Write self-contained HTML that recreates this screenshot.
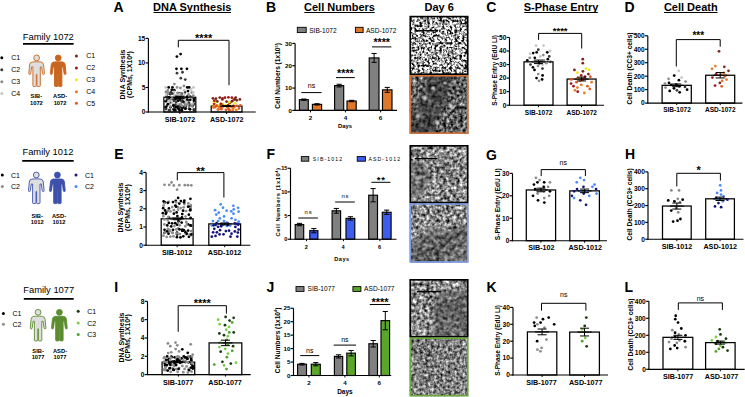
<!DOCTYPE html>
<html><head><meta charset="utf-8">
<style>
html,body{margin:0;padding:0;background:#fff;}
body{width:745px;height:397px;overflow:hidden;}
svg{display:block;font-family:"Liberation Sans", sans-serif;}
</style></head>
<body>
<svg width="745" height="397" viewBox="0 0 745 397">
<defs>
<radialGradient id="glow"><stop offset="0" stop-color="#fff" stop-opacity="0.85"/><stop offset="1" stop-color="#fff" stop-opacity="0"/></radialGradient><filter id="mblur" x="-20%" y="-20%" width="140%" height="140%"><feGaussianBlur stdDeviation="2.5"/></filter><filter id="m1" filterUnits="userSpaceOnUse" x="405" y="10" width="70" height="390" color-interpolation-filters="sRGB"><feTurbulence type="fractalNoise" baseFrequency="0.4" numOctaves="2" seed="3" result="t"/><feColorMatrix in="t" type="matrix" values="3.2 0 0 0 -0.95  3.2 0 0 0 -0.95  3.2 0 0 0 -0.95  0 0 0 0 1" result="a"/><feComposite in2="SourceGraphic" operator="in"/></filter><filter id="mdark" filterUnits="userSpaceOnUse" x="405" y="10" width="70" height="390" color-interpolation-filters="sRGB"><feTurbulence type="fractalNoise" baseFrequency="0.25" numOctaves="2" seed="5" result="t"/><feColorMatrix in="t" type="matrix" values="0.75 0 0 0 -0.09  0.75 0 0 0 -0.09  0.75 0 0 0 -0.09  0 0 0 0 1" result="a"/><feTurbulence type="fractalNoise" baseFrequency="0.06" numOctaves="1" seed="12" result="t2"/><feColorMatrix in="t2" type="matrix" values="0.25 0 0 0 0  0.25 0 0 0 0  0.25 0 0 0 0  0 0 0 0 1" result="b"/><feComposite in="a" in2="b" operator="arithmetic" k1="0" k2="1" k3="1" k4="-0.14" result="c"/><feComposite in2="SourceGraphic" operator="in"/></filter><filter id="mtex_o" filterUnits="userSpaceOnUse" x="405" y="10" width="70" height="390" color-interpolation-filters="sRGB"><feTurbulence type="fractalNoise" baseFrequency="0.3" numOctaves="2" seed="9" result="t"/><feColorMatrix in="t" type="matrix" values="1.5 0 0 0 -0.38  1.5 0 0 0 -0.38  1.5 0 0 0 -0.38  0 0 0 0 1" result="a"/><feComposite in2="SourceGraphic" operator="in"/></filter><filter id="mtex" filterUnits="userSpaceOnUse" x="405" y="10" width="70" height="390" color-interpolation-filters="sRGB"><feTurbulence type="fractalNoise" baseFrequency="0.3" numOctaves="2" seed="8" result="t"/><feColorMatrix in="t" type="matrix" values="1.6 0 0 0 -0.26  1.6 0 0 0 -0.26  1.6 0 0 0 -0.26  0 0 0 0 1" result="a"/><feTurbulence type="fractalNoise" baseFrequency="0.05" numOctaves="1" seed="15" result="t2"/><feColorMatrix in="t2" type="matrix" values="0.3 0 0 0 0  0.3 0 0 0 0  0.3 0 0 0 0  0 0 0 0 1" result="b"/><feComposite in="a" in2="b" operator="arithmetic" k1="0" k2="1" k3="1" k4="-0.15" result="c"/><feComposite in2="SourceGraphic" operator="in"/></filter><filter id="msmooth" filterUnits="userSpaceOnUse" x="405" y="10" width="70" height="390" color-interpolation-filters="sRGB"><feTurbulence type="fractalNoise" baseFrequency="0.25" numOctaves="2" seed="11" result="t"/><feColorMatrix in="t" type="matrix" values="0.9 0 0 0 -0.05  0.9 0 0 0 -0.05  0.9 0 0 0 -0.05  0 0 0 0 1" result="a"/><feTurbulence type="fractalNoise" baseFrequency="0.04" numOctaves="1" seed="18" result="t2"/><feColorMatrix in="t2" type="matrix" values="0.3 0 0 0 0  0.3 0 0 0 0  0.3 0 0 0 0  0 0 0 0 1" result="b"/><feComposite in="a" in2="b" operator="arithmetic" k1="0" k2="1" k3="1" k4="-0.15" result="c"/><feComposite in2="SourceGraphic" operator="in"/></filter><filter id="mtex2" filterUnits="userSpaceOnUse" x="405" y="10" width="70" height="390" color-interpolation-filters="sRGB"><feTurbulence type="fractalNoise" baseFrequency="0.35" numOctaves="2" seed="17" result="t"/><feColorMatrix in="t" type="matrix" values="1.3 0 0 0 -0.15  1.3 0 0 0 -0.15  1.3 0 0 0 -0.15  0 0 0 0 1" result="a"/><feTurbulence type="fractalNoise" baseFrequency="0.05" numOctaves="1" seed="24" result="t2"/><feColorMatrix in="t2" type="matrix" values="0.3 0 0 0 0  0.3 0 0 0 0  0.3 0 0 0 0  0 0 0 0 1" result="b"/><feComposite in="a" in2="b" operator="arithmetic" k1="0" k2="1" k3="1" k4="-0.15" result="c"/><feComposite in2="SourceGraphic" operator="in"/></filter><clipPath id="tc1"><rect x="409.5" y="15.8" width="59" height="59.2"/></clipPath><clipPath id="tc2"><rect x="409.5" y="75" width="59" height="59"/></clipPath><mask id="mc3" maskUnits="userSpaceOnUse" x="400" y="0" width="80" height="400"><path d="M430,140 L475,140 L475,84 L462,70 L452,70 L447,92 L440,112 Z" fill="#fff" filter="url(#mblur)"/></mask><mask id="mc4" maskUnits="userSpaceOnUse" x="400" y="0" width="80" height="400"><path d="M404,70 L428,70 L422,95 L415,112 L404,118 Z" fill="#fff" filter="url(#mblur)"/></mask><clipPath id="tc5"><rect x="409.5" y="145" width="59" height="58.3"/></clipPath><mask id="mc6" maskUnits="userSpaceOnUse" x="400" y="0" width="80" height="400"><path d="M409.5,165 L425,162 L430,180 L420,196 L409.5,196 Z" fill="#fff" filter="url(#mblur)"/></mask><clipPath id="tc7"><rect x="409.5" y="203.3" width="59" height="59.4"/></clipPath><mask id="mc8" maskUnits="userSpaceOnUse" x="400" y="0" width="80" height="400"><path d="M405,198 L475,198 L475,222 L450,232 L432,226 L418,240 L405,238 Z" fill="#fff" filter="url(#mblur)"/></mask><clipPath id="tc9"><rect x="409.5" y="279" width="59" height="58.5"/></clipPath><mask id="mc10" maskUnits="userSpaceOnUse" x="400" y="0" width="80" height="400"><path d="M405,274 L475,274 L475,290 L440,292 L434,310 L432,342 L405,342 Z" fill="#fff" filter="url(#mblur)"/></mask><clipPath id="tc11"><rect x="409.5" y="337.5" width="59" height="59"/></clipPath>
</defs>
<rect width="745" height="397" fill="#fff"/>
<text x="48.3" y="39.5" font-size="9.4" font-weight="normal" text-anchor="middle" fill="#000" >Family 1072</text>
<line x1="23" y1="43.9" x2="73.6" y2="43.9" stroke="#000" stroke-width="1.7"/>
<circle cx="1.8" cy="57.7" r="1.5" fill="#000000"/>
<text x="11.2" y="60.2" font-size="7" font-weight="normal" text-anchor="start" fill="#000" >C1</text>
<circle cx="1.8" cy="69.7" r="1.5" fill="#3a3a3a"/>
<text x="11.2" y="72.2" font-size="7" font-weight="normal" text-anchor="start" fill="#000" >C2</text>
<circle cx="1.8" cy="81.7" r="1.5" fill="#8c8c8c"/>
<text x="11.2" y="84.2" font-size="7" font-weight="normal" text-anchor="start" fill="#000" >C3</text>
<circle cx="1.8" cy="93.5" r="1.5" fill="#c6c6c6"/>
<text x="11.2" y="96" font-size="7" font-weight="normal" text-anchor="start" fill="#000" >C4</text>
<circle cx="76.4" cy="55.9" r="1.5" fill="#7c2616"/>
<text x="86.2" y="58.4" font-size="7" font-weight="normal" text-anchor="start" fill="#000" >C1</text>
<circle cx="76.4" cy="67.9" r="1.5" fill="#a3191d"/>
<text x="86.2" y="70.4" font-size="7" font-weight="normal" text-anchor="start" fill="#000" >C2</text>
<circle cx="76.4" cy="79.7" r="1.5" fill="#f2e61c"/>
<text x="86.2" y="82.2" font-size="7" font-weight="normal" text-anchor="start" fill="#000" >C3</text>
<circle cx="76.4" cy="91.7" r="1.5" fill="#e97a2a"/>
<text x="86.2" y="94.2" font-size="7" font-weight="normal" text-anchor="start" fill="#000" >C4</text>
<circle cx="76.4" cy="103.2" r="1.5" fill="#e2591f"/>
<text x="86.2" y="105.7" font-size="7" font-weight="normal" text-anchor="start" fill="#000" >C5</text>
<g transform="translate(36.6,57.9)" stroke="#c8661f" stroke-width="0.9" fill="#dedede" stroke-linejoin="round"><circle cx="0" cy="0" r="2.9"/><path d="M -1.6,3.9 L -4.5,4.1 Q -6.8,4.4 -7.0,7.0 L -7.8,15.4 Q -7.9,16.6 -6.9,16.6 Q -6.0,16.6 -5.9,15.6 L -5.0,9.0 L -3.7,9.0 L -3.7,27.8 Q -3.7,28.6 -2.9,28.6 L -1.0,28.6 Q -0.3,28.6 -0.3,27.8 L -0.3,16.5 L 0.3,16.5 L 0.3,27.8 Q 0.3,28.6 1.0,28.6 L 2.9,28.6 Q 3.7,28.6 3.7,27.8 L 3.7,9.0 L 5.0,9.0 L 5.9,15.6 Q 6.0,16.6 6.9,16.6 Q 7.9,16.6 7.8,15.4 L 7.0,7.0 Q 6.8,4.4 4.5,4.1 L 1.6,3.9 Z"/></g>
<g transform="translate(58.2,57.9)" stroke="#c8661f" stroke-width="0.9" fill="#c8661f" stroke-linejoin="round"><circle cx="0" cy="0" r="2.9"/><path d="M -1.6,3.9 L -4.5,4.1 Q -6.8,4.4 -7.0,7.0 L -7.8,15.4 Q -7.9,16.6 -6.9,16.6 Q -6.0,16.6 -5.9,15.6 L -5.0,9.0 L -3.7,9.0 L -3.7,27.8 Q -3.7,28.6 -2.9,28.6 L -1.0,28.6 Q -0.3,28.6 -0.3,27.8 L -0.3,16.5 L 0.3,16.5 L 0.3,27.8 Q 0.3,28.6 1.0,28.6 L 2.9,28.6 Q 3.7,28.6 3.7,27.8 L 3.7,9.0 L 5.0,9.0 L 5.9,15.6 Q 6.0,16.6 6.9,16.6 Q 7.9,16.6 7.8,15.4 L 7.0,7.0 Q 6.8,4.4 4.5,4.1 L 1.6,3.9 Z"/></g>
<text x="36.4" y="98.2" font-size="5.8" font-weight="bold" text-anchor="middle" fill="#000" >SIB-</text>
<text x="36.4" y="104.9" font-size="5.8" font-weight="bold" text-anchor="middle" fill="#000" >1072</text>
<text x="60.1" y="98.2" font-size="5.8" font-weight="bold" text-anchor="middle" fill="#000" >ASD-</text>
<text x="60.1" y="104.9" font-size="5.8" font-weight="bold" text-anchor="middle" fill="#000" >1072</text>
<text x="47.95" y="155" font-size="9.4" font-weight="normal" text-anchor="middle" fill="#000" >Family 1012</text>
<line x1="22.2" y1="160.9" x2="73.7" y2="160.9" stroke="#000" stroke-width="1.7"/>
<circle cx="2.3" cy="175.1" r="1.5" fill="#000000"/>
<text x="10.9" y="177.6" font-size="7" font-weight="normal" text-anchor="start" fill="#000" >C1</text>
<circle cx="2.3" cy="186.5" r="1.5" fill="#8c8c8c"/>
<text x="10.9" y="189" font-size="7" font-weight="normal" text-anchor="start" fill="#000" >C2</text>
<circle cx="76" cy="175" r="1.5" fill="#16167a"/>
<text x="85" y="177.5" font-size="7" font-weight="normal" text-anchor="start" fill="#000" >C1</text>
<circle cx="76" cy="186.5" r="1.5" fill="#4a8cf6"/>
<text x="85" y="189" font-size="7" font-weight="normal" text-anchor="start" fill="#000" >C2</text>
<g transform="translate(36.3,175)" stroke="#3d51aa" stroke-width="0.9" fill="#dedede" stroke-linejoin="round"><circle cx="0" cy="0" r="2.9"/><path d="M -1.6,3.9 L -4.5,4.1 Q -6.8,4.4 -7.0,7.0 L -7.8,15.4 Q -7.9,16.6 -6.9,16.6 Q -6.0,16.6 -5.9,15.6 L -5.0,9.0 L -3.7,9.0 L -3.7,27.8 Q -3.7,28.6 -2.9,28.6 L -1.0,28.6 Q -0.3,28.6 -0.3,27.8 L -0.3,16.5 L 0.3,16.5 L 0.3,27.8 Q 0.3,28.6 1.0,28.6 L 2.9,28.6 Q 3.7,28.6 3.7,27.8 L 3.7,9.0 L 5.0,9.0 L 5.9,15.6 Q 6.0,16.6 6.9,16.6 Q 7.9,16.6 7.8,15.4 L 7.0,7.0 Q 6.8,4.4 4.5,4.1 L 1.6,3.9 Z"/></g>
<g transform="translate(57.4,175)" stroke="#3d51aa" stroke-width="0.9" fill="#3d51aa" stroke-linejoin="round"><circle cx="0" cy="0" r="2.9"/><path d="M -1.6,3.9 L -4.5,4.1 Q -6.8,4.4 -7.0,7.0 L -7.8,15.4 Q -7.9,16.6 -6.9,16.6 Q -6.0,16.6 -5.9,15.6 L -5.0,9.0 L -3.7,9.0 L -3.7,27.8 Q -3.7,28.6 -2.9,28.6 L -1.0,28.6 Q -0.3,28.6 -0.3,27.8 L -0.3,16.5 L 0.3,16.5 L 0.3,27.8 Q 0.3,28.6 1.0,28.6 L 2.9,28.6 Q 3.7,28.6 3.7,27.8 L 3.7,9.0 L 5.0,9.0 L 5.9,15.6 Q 6.0,16.6 6.9,16.6 Q 7.9,16.6 7.8,15.4 L 7.0,7.0 Q 6.8,4.4 4.5,4.1 L 1.6,3.9 Z"/></g>
<text x="37.2" y="217.7" font-size="5.8" font-weight="bold" text-anchor="middle" fill="#000" >SIB-</text>
<text x="37.2" y="224.4" font-size="5.8" font-weight="bold" text-anchor="middle" fill="#000" >1012</text>
<text x="59" y="217.7" font-size="5.8" font-weight="bold" text-anchor="middle" fill="#000" >ASD-</text>
<text x="59" y="224.4" font-size="5.8" font-weight="bold" text-anchor="middle" fill="#000" >1012</text>
<text x="48.75" y="293" font-size="9.4" font-weight="normal" text-anchor="middle" fill="#000" >Family 1077</text>
<line x1="23.8" y1="298.8" x2="73.7" y2="298.8" stroke="#000" stroke-width="1.7"/>
<circle cx="3.4" cy="313.5" r="1.5" fill="#000000"/>
<text x="12.5" y="316" font-size="7" font-weight="normal" text-anchor="start" fill="#000" >C1</text>
<circle cx="3.4" cy="324.2" r="1.5" fill="#8c8c8c"/>
<text x="12.5" y="326.7" font-size="7" font-weight="normal" text-anchor="start" fill="#000" >C2</text>
<circle cx="78.2" cy="311.3" r="1.5" fill="#1a3a10"/>
<text x="87.3" y="313.8" font-size="7" font-weight="normal" text-anchor="start" fill="#000" >C1</text>
<circle cx="78.2" cy="323.1" r="1.5" fill="#74d044"/>
<text x="87.3" y="325.6" font-size="7" font-weight="normal" text-anchor="start" fill="#000" >C2</text>
<circle cx="78.2" cy="334.4" r="1.5" fill="#4fa22c"/>
<text x="87.3" y="336.9" font-size="7" font-weight="normal" text-anchor="start" fill="#000" >C3</text>
<g transform="translate(38.1,312.3)" stroke="#5b8c2f" stroke-width="0.9" fill="#dedede" stroke-linejoin="round"><circle cx="0" cy="0" r="2.9"/><path d="M -1.6,3.9 L -4.5,4.1 Q -6.8,4.4 -7.0,7.0 L -7.8,15.4 Q -7.9,16.6 -6.9,16.6 Q -6.0,16.6 -5.9,15.6 L -5.0,9.0 L -3.7,9.0 L -3.7,27.8 Q -3.7,28.6 -2.9,28.6 L -1.0,28.6 Q -0.3,28.6 -0.3,27.8 L -0.3,16.5 L 0.3,16.5 L 0.3,27.8 Q 0.3,28.6 1.0,28.6 L 2.9,28.6 Q 3.7,28.6 3.7,27.8 L 3.7,9.0 L 5.0,9.0 L 5.9,15.6 Q 6.0,16.6 6.9,16.6 Q 7.9,16.6 7.8,15.4 L 7.0,7.0 Q 6.8,4.4 4.5,4.1 L 1.6,3.9 Z"/></g>
<g transform="translate(59.4,312.3)" stroke="#5b8c2f" stroke-width="0.9" fill="#5b8c2f" stroke-linejoin="round"><circle cx="0" cy="0" r="2.9"/><path d="M -1.6,3.9 L -4.5,4.1 Q -6.8,4.4 -7.0,7.0 L -7.8,15.4 Q -7.9,16.6 -6.9,16.6 Q -6.0,16.6 -5.9,15.6 L -5.0,9.0 L -3.7,9.0 L -3.7,27.8 Q -3.7,28.6 -2.9,28.6 L -1.0,28.6 Q -0.3,28.6 -0.3,27.8 L -0.3,16.5 L 0.3,16.5 L 0.3,27.8 Q 0.3,28.6 1.0,28.6 L 2.9,28.6 Q 3.7,28.6 3.7,27.8 L 3.7,9.0 L 5.0,9.0 L 5.9,15.6 Q 6.0,16.6 6.9,16.6 Q 7.9,16.6 7.8,15.4 L 7.0,7.0 Q 6.8,4.4 4.5,4.1 L 1.6,3.9 Z"/></g>
<text x="38.1" y="352.7" font-size="5.8" font-weight="bold" text-anchor="middle" fill="#000" >SIB-</text>
<text x="38.1" y="359.4" font-size="5.8" font-weight="bold" text-anchor="middle" fill="#000" >1077</text>
<text x="60" y="352.7" font-size="5.8" font-weight="bold" text-anchor="middle" fill="#000" >ASD-</text>
<text x="60" y="359.4" font-size="5.8" font-weight="bold" text-anchor="middle" fill="#000" >1077</text>
<text x="113.5" y="12.3" font-size="14" font-weight="bold" text-anchor="start" fill="#000" >A</text>
<text x="266" y="12.3" font-size="14" font-weight="bold" text-anchor="start" fill="#000" >B</text>
<text x="486.3" y="12.3" font-size="14" font-weight="bold" text-anchor="start" fill="#000" >C</text>
<text x="624.4" y="12.3" font-size="14" font-weight="bold" text-anchor="start" fill="#000" >D</text>
<text x="114.2" y="159.1" font-size="14" font-weight="bold" text-anchor="start" fill="#000" >E</text>
<text x="266.5" y="159" font-size="14" font-weight="bold" text-anchor="start" fill="#000" >F</text>
<text x="486" y="159.5" font-size="14" font-weight="bold" text-anchor="start" fill="#000" >G</text>
<text x="625" y="159" font-size="14" font-weight="bold" text-anchor="start" fill="#000" >H</text>
<text x="114.2" y="292" font-size="14" font-weight="bold" text-anchor="start" fill="#000" >I</text>
<text x="266.6" y="292" font-size="14" font-weight="bold" text-anchor="start" fill="#000" >J</text>
<text x="486.4" y="292.3" font-size="14" font-weight="bold" text-anchor="start" fill="#000" >K</text>
<text x="624.6" y="292.1" font-size="14" font-weight="bold" text-anchor="start" fill="#000" >L</text>
<text x="192.25" y="10.9" font-size="11" font-weight="bold" text-anchor="middle" fill="#000" >DNA Synthesis</text>
<line x1="153.5" y1="12.5" x2="231" y2="12.5" stroke="#000" stroke-width="1.1"/>
<text x="339.5" y="10.9" font-size="11" font-weight="bold" text-anchor="middle" fill="#000" >Cell Numbers</text>
<line x1="304.3" y1="12.5" x2="374.7" y2="12.5" stroke="#000" stroke-width="1.1"/>
<text x="561" y="10.9" font-size="11" font-weight="bold" text-anchor="middle" fill="#000" >S-Phase Entry</text>
<line x1="524.2" y1="12.5" x2="597.8" y2="12.5" stroke="#000" stroke-width="1.1"/>
<text x="690.8" y="10.9" font-size="11" font-weight="bold" text-anchor="middle" fill="#000" >Cell Death</text>
<line x1="664.1" y1="12.5" x2="717.5" y2="12.5" stroke="#000" stroke-width="1.1"/>
<text x="439.2" y="11.3" font-size="11" font-weight="bold" text-anchor="middle" fill="#000" >Day 6</text>
<g clip-path="url(#tc1)">
<rect x="409.5" y="15.8" width="59" height="59.2" fill="#fff" filter="url(#m1)"/>
</g>
<g clip-path="url(#tc2)">
<rect x="409.5" y="75" width="59" height="59" fill="#fff" filter="url(#mdark)"/>
<g mask="url(#mc3)"><rect x="409.5" y="10" width="59" height="390" fill="#fff" filter="url(#mtex_o)"/></g>
<g mask="url(#mc4)"><rect x="409.5" y="10" width="59" height="390" fill="#fff" filter="url(#mtex_o)"/></g>
<circle cx="425" cy="98" r="3.5" fill="url(#glow)"/>
<circle cx="418" cy="116" r="3" fill="url(#glow)"/>
<circle cx="437" cy="122" r="3" fill="url(#glow)"/>
<circle cx="451" cy="106" r="3.5" fill="url(#glow)"/>
<circle cx="433" cy="88" r="2.5" fill="url(#glow)"/>
<circle cx="445" cy="83" r="2.5" fill="url(#glow)"/>
</g>
<rect x="410.3" y="16.6" width="57.4" height="57.6" fill="none" stroke="#000" stroke-width="1.6"/>
<rect x="410.3" y="75.8" width="57.4" height="57.4" fill="none" stroke="#d0743a" stroke-width="1.6"/>
<g clip-path="url(#tc5)">
<rect x="409.5" y="145" width="59" height="58.3" fill="#fff" filter="url(#mtex)"/>
<g mask="url(#mc6)"><rect x="409.5" y="10" width="59" height="390" fill="#fff" filter="url(#msmooth)"/></g>
</g>
<g clip-path="url(#tc7)">
<rect x="409.5" y="203.3" width="59" height="59.4" fill="#fff" filter="url(#msmooth)"/>
<g mask="url(#mc8)"><rect x="409.5" y="10" width="59" height="390" fill="#fff" filter="url(#mtex)"/></g>
</g>
<rect x="410.3" y="145.8" width="57.4" height="56.7" fill="none" stroke="#000" stroke-width="1.6"/>
<rect x="410.3" y="204.1" width="57.4" height="57.8" fill="none" stroke="#7d9be0" stroke-width="1.6"/>
<g clip-path="url(#tc9)">
<rect x="409.5" y="279" width="59" height="58.5" fill="#fff" filter="url(#msmooth)"/>
<g mask="url(#mc10)"><rect x="409.5" y="10" width="59" height="390" fill="#fff" filter="url(#mtex)"/></g>
</g>
<g clip-path="url(#tc11)">
<rect x="409.5" y="337.5" width="59" height="59" fill="#fff" filter="url(#mtex2)"/>
</g>
<rect x="410.3" y="279.8" width="57.4" height="56.9" fill="none" stroke="#000" stroke-width="1.6"/>
<rect x="410.3" y="338.3" width="57.4" height="57.4" fill="none" stroke="#6aa83a" stroke-width="1.6"/>
<line x1="415" y1="30.7" x2="438" y2="30.7" stroke="#000" stroke-width="1.3"/>
<line x1="414.7" y1="158.6" x2="437.4" y2="158.6" stroke="#000" stroke-width="1.3"/>
<line x1="417" y1="291.7" x2="440.8" y2="291.7" stroke="#000" stroke-width="1.3"/>
<rect x="163.9" y="97.28" width="31.9" height="14.72" fill="#fff" stroke="#000" stroke-width="1.25"/>
<rect x="211.2" y="106.11" width="30.8" height="5.89" fill="#fff" stroke="#000" stroke-width="1.25"/>
<circle cx="174.78" cy="99.16" r="1.38" fill="#000000"/>
<circle cx="174.29" cy="90.17" r="1.38" fill="#000000"/>
<circle cx="182.5" cy="72.25" r="1.38" fill="#3a3a3a"/>
<circle cx="183.81" cy="96.37" r="1.38" fill="#c6c6c6"/>
<circle cx="167.08" cy="94.38" r="1.38" fill="#c6c6c6"/>
<circle cx="168.69" cy="87.47" r="1.38" fill="#000000"/>
<circle cx="175.38" cy="104.61" r="1.38" fill="#3a3a3a"/>
<circle cx="193.83" cy="103.75" r="1.38" fill="#3a3a3a"/>
<circle cx="170.14" cy="94.22" r="1.38" fill="#3a3a3a"/>
<circle cx="181.69" cy="93.48" r="1.38" fill="#8c8c8c"/>
<circle cx="172.94" cy="98.72" r="1.38" fill="#000000"/>
<circle cx="173.61" cy="93.14" r="1.38" fill="#c6c6c6"/>
<circle cx="170.06" cy="103.14" r="1.38" fill="#8c8c8c"/>
<circle cx="166.85" cy="106.09" r="1.38" fill="#3a3a3a"/>
<circle cx="179.02" cy="93.44" r="1.38" fill="#000000"/>
<circle cx="165.6" cy="87.47" r="1.38" fill="#c6c6c6"/>
<circle cx="193.91" cy="100.7" r="1.38" fill="#000000"/>
<circle cx="168.88" cy="97.28" r="1.38" fill="#000000"/>
<circle cx="170.01" cy="99.65" r="1.38" fill="#8c8c8c"/>
<circle cx="183.55" cy="107.1" r="1.38" fill="#3a3a3a"/>
<circle cx="168.04" cy="93.16" r="1.38" fill="#8c8c8c"/>
<circle cx="173.26" cy="109.34" r="1.38" fill="#3a3a3a"/>
<circle cx="178.08" cy="104.64" r="1.38" fill="#8c8c8c"/>
<circle cx="181.4" cy="97.3" r="1.38" fill="#3a3a3a"/>
<circle cx="165.92" cy="101.15" r="1.38" fill="#000000"/>
<circle cx="181.01" cy="93.23" r="1.38" fill="#8c8c8c"/>
<circle cx="193.95" cy="109.89" r="1.38" fill="#000000"/>
<circle cx="185.11" cy="105.01" r="1.38" fill="#3a3a3a"/>
<circle cx="185" cy="100.58" r="1.38" fill="#8c8c8c"/>
<circle cx="170.86" cy="101.81" r="1.38" fill="#3a3a3a"/>
<circle cx="174.37" cy="84.03" r="1.38" fill="#8c8c8c"/>
<circle cx="180.6" cy="54.1" r="1.38" fill="#000000"/>
<circle cx="172.59" cy="97.76" r="1.38" fill="#8c8c8c"/>
<circle cx="176.33" cy="98.63" r="1.38" fill="#8c8c8c"/>
<circle cx="186.25" cy="103.27" r="1.38" fill="#8c8c8c"/>
<circle cx="183.77" cy="99.17" r="1.38" fill="#000000"/>
<circle cx="184.76" cy="101.67" r="1.38" fill="#3a3a3a"/>
<circle cx="178.22" cy="93.8" r="1.38" fill="#000000"/>
<circle cx="174.46" cy="110.37" r="1.38" fill="#000000"/>
<circle cx="179.62" cy="97.24" r="1.38" fill="#000000"/>
<circle cx="179.06" cy="107.66" r="1.38" fill="#3a3a3a"/>
<circle cx="191.75" cy="92.61" r="1.38" fill="#8c8c8c"/>
<circle cx="188.48" cy="94.44" r="1.38" fill="#8c8c8c"/>
<circle cx="189.2" cy="87.47" r="1.38" fill="#000000"/>
<circle cx="184.84" cy="93.7" r="1.38" fill="#c6c6c6"/>
<circle cx="187.9" cy="101.43" r="1.38" fill="#8c8c8c"/>
<circle cx="189.35" cy="106.18" r="1.38" fill="#8c8c8c"/>
<circle cx="184.58" cy="97.86" r="1.38" fill="#3a3a3a"/>
<circle cx="178.64" cy="104.22" r="1.38" fill="#c6c6c6"/>
<circle cx="184.2" cy="102.39" r="1.38" fill="#3a3a3a"/>
<circle cx="165.82" cy="91.95" r="1.38" fill="#8c8c8c"/>
<circle cx="187.87" cy="100.29" r="1.38" fill="#3a3a3a"/>
<circle cx="193.93" cy="98.88" r="1.38" fill="#000000"/>
<circle cx="185.81" cy="103.64" r="1.38" fill="#8c8c8c"/>
<circle cx="170.38" cy="107.35" r="1.38" fill="#000000"/>
<circle cx="175.28" cy="106.81" r="1.38" fill="#000000"/>
<circle cx="166.49" cy="95.9" r="1.38" fill="#000000"/>
<circle cx="193.23" cy="92.38" r="1.38" fill="#c6c6c6"/>
<circle cx="182.11" cy="108.2" r="1.38" fill="#8c8c8c"/>
<circle cx="179.65" cy="104.83" r="1.38" fill="#8c8c8c"/>
<circle cx="190.28" cy="99.81" r="1.38" fill="#000000"/>
<circle cx="166.16" cy="94.95" r="1.38" fill="#c6c6c6"/>
<circle cx="181.78" cy="94.05" r="1.38" fill="#3a3a3a"/>
<circle cx="186.41" cy="102.17" r="1.38" fill="#c6c6c6"/>
<circle cx="176.15" cy="102.11" r="1.38" fill="#3a3a3a"/>
<circle cx="165.78" cy="100.98" r="1.38" fill="#000000"/>
<circle cx="189" cy="108.65" r="1.38" fill="#3a3a3a"/>
<circle cx="175.62" cy="110.39" r="1.38" fill="#3a3a3a"/>
<circle cx="175.81" cy="95.63" r="1.38" fill="#8c8c8c"/>
<circle cx="183.48" cy="97.11" r="1.38" fill="#8c8c8c"/>
<circle cx="193.48" cy="104.16" r="1.38" fill="#3a3a3a"/>
<circle cx="181.37" cy="68.82" r="1.38" fill="#000000"/>
<circle cx="165.69" cy="99.1" r="1.38" fill="#c6c6c6"/>
<circle cx="180.03" cy="98.43" r="1.38" fill="#3a3a3a"/>
<circle cx="169.78" cy="110.31" r="1.38" fill="#3a3a3a"/>
<circle cx="179.59" cy="110.21" r="1.38" fill="#000000"/>
<circle cx="166.42" cy="108.77" r="1.38" fill="#8c8c8c"/>
<circle cx="167.36" cy="99.3" r="1.38" fill="#3a3a3a"/>
<circle cx="180.44" cy="87.96" r="1.38" fill="#8c8c8c"/>
<circle cx="167.31" cy="92.37" r="1.38" fill="#8c8c8c"/>
<circle cx="173.29" cy="103.47" r="1.38" fill="#c6c6c6"/>
<circle cx="167.8" cy="104.13" r="1.38" fill="#000000"/>
<circle cx="177.04" cy="87.47" r="1.38" fill="#8c8c8c"/>
<circle cx="183.53" cy="100.07" r="1.38" fill="#3a3a3a"/>
<circle cx="169.4" cy="97.54" r="1.38" fill="#000000"/>
<circle cx="173.91" cy="91.9" r="1.38" fill="#c6c6c6"/>
<circle cx="178.1" cy="97.74" r="1.38" fill="#000000"/>
<circle cx="190.82" cy="97.12" r="1.38" fill="#3a3a3a"/>
<circle cx="182.12" cy="108.43" r="1.38" fill="#000000"/>
<circle cx="180.64" cy="100.91" r="1.38" fill="#8c8c8c"/>
<circle cx="170.79" cy="92.75" r="1.38" fill="#000000"/>
<circle cx="170.93" cy="92.39" r="1.38" fill="#8c8c8c"/>
<circle cx="170.63" cy="101.23" r="1.38" fill="#000000"/>
<circle cx="181.82" cy="110.3" r="1.38" fill="#000000"/>
<circle cx="188" cy="91.03" r="1.38" fill="#000000"/>
<circle cx="185.16" cy="108.7" r="1.38" fill="#3a3a3a"/>
<circle cx="192.79" cy="104.02" r="1.38" fill="#8c8c8c"/>
<circle cx="174.4" cy="107.26" r="1.38" fill="#3a3a3a"/>
<circle cx="177" cy="73.23" r="1.38" fill="#3a3a3a"/>
<circle cx="176.89" cy="56.55" r="1.38" fill="#000000"/>
<circle cx="186.69" cy="101.51" r="1.38" fill="#c6c6c6"/>
<circle cx="193.12" cy="105.1" r="1.38" fill="#3a3a3a"/>
<circle cx="179.8" cy="94.02" r="1.38" fill="#c6c6c6"/>
<circle cx="181.06" cy="103.97" r="1.38" fill="#8c8c8c"/>
<circle cx="169.09" cy="101.32" r="1.38" fill="#c6c6c6"/>
<circle cx="178.1" cy="96.63" r="1.38" fill="#3a3a3a"/>
<circle cx="179.2" cy="106.53" r="1.38" fill="#3a3a3a"/>
<circle cx="176.34" cy="97.46" r="1.38" fill="#000000"/>
<circle cx="181.17" cy="107.6" r="1.38" fill="#3a3a3a"/>
<circle cx="190.11" cy="96.71" r="1.38" fill="#3a3a3a"/>
<circle cx="172.25" cy="100.78" r="1.38" fill="#000000"/>
<circle cx="170.99" cy="92.3" r="1.38" fill="#3a3a3a"/>
<circle cx="171.95" cy="101.59" r="1.38" fill="#c6c6c6"/>
<circle cx="178.25" cy="94.48" r="1.38" fill="#c6c6c6"/>
<circle cx="177.71" cy="98.13" r="1.38" fill="#000000"/>
<circle cx="193.98" cy="109.3" r="1.38" fill="#3a3a3a"/>
<circle cx="187.28" cy="99.38" r="1.38" fill="#000000"/>
<circle cx="190.01" cy="109.22" r="1.38" fill="#8c8c8c"/>
<circle cx="185.03" cy="92.12" r="1.38" fill="#3a3a3a"/>
<circle cx="192.44" cy="104.86" r="1.38" fill="#8c8c8c"/>
<circle cx="167.79" cy="90.42" r="1.38" fill="#8c8c8c"/>
<circle cx="184.43" cy="90.19" r="1.38" fill="#c6c6c6"/>
<circle cx="177.52" cy="92.84" r="1.38" fill="#8c8c8c"/>
<circle cx="193.53" cy="87.47" r="1.38" fill="#c6c6c6"/>
<circle cx="185.29" cy="79.61" r="1.38" fill="#3a3a3a"/>
<circle cx="169.13" cy="110.15" r="1.38" fill="#3a3a3a"/>
<circle cx="171.43" cy="100.76" r="1.38" fill="#c6c6c6"/>
<circle cx="178.12" cy="108.54" r="1.38" fill="#000000"/>
<circle cx="183.95" cy="85.99" r="1.38" fill="#8c8c8c"/>
<circle cx="174.11" cy="94.59" r="1.38" fill="#c6c6c6"/>
<circle cx="185.65" cy="106.42" r="1.38" fill="#3a3a3a"/>
<circle cx="165.66" cy="107.2" r="1.38" fill="#000000"/>
<circle cx="191.19" cy="89.5" r="1.38" fill="#c6c6c6"/>
<circle cx="182.08" cy="106.51" r="1.38" fill="#000000"/>
<circle cx="187.1" cy="96.73" r="1.38" fill="#000000"/>
<circle cx="184.58" cy="99.79" r="1.38" fill="#c6c6c6"/>
<circle cx="176.25" cy="107.04" r="1.38" fill="#000000"/>
<circle cx="189.99" cy="109.27" r="1.38" fill="#000000"/>
<circle cx="186.92" cy="68.82" r="1.38" fill="#000000"/>
<circle cx="165.84" cy="109.03" r="1.38" fill="#3a3a3a"/>
<circle cx="173.53" cy="105.74" r="1.38" fill="#3a3a3a"/>
<circle cx="192.38" cy="104.02" r="1.38" fill="#c6c6c6"/>
<circle cx="170.37" cy="106.5" r="1.38" fill="#8c8c8c"/>
<circle cx="175.68" cy="100.15" r="1.38" fill="#8c8c8c"/>
<circle cx="172.18" cy="93.58" r="1.38" fill="#3a3a3a"/>
<circle cx="189.06" cy="102.99" r="1.38" fill="#3a3a3a"/>
<circle cx="178.11" cy="100.74" r="1.38" fill="#000000"/>
<circle cx="174.18" cy="100.68" r="1.38" fill="#3a3a3a"/>
<circle cx="175.62" cy="98.94" r="1.38" fill="#000000"/>
<circle cx="189.47" cy="105" r="1.38" fill="#3a3a3a"/>
<circle cx="177.45" cy="106.63" r="1.38" fill="#000000"/>
<circle cx="181.27" cy="94.65" r="1.38" fill="#8c8c8c"/>
<circle cx="180.16" cy="99.73" r="1.38" fill="#000000"/>
<circle cx="187.25" cy="87.47" r="1.38" fill="#000000"/>
<circle cx="192.76" cy="97.22" r="1.38" fill="#3a3a3a"/>
<circle cx="182.55" cy="101.5" r="1.38" fill="#000000"/>
<circle cx="188.02" cy="104.53" r="1.38" fill="#8c8c8c"/>
<circle cx="171.76" cy="89.8" r="1.38" fill="#000000"/>
<circle cx="193.31" cy="95.61" r="1.38" fill="#8c8c8c"/>
<circle cx="192.64" cy="106.05" r="1.38" fill="#000000"/>
<circle cx="174.86" cy="109.64" r="1.38" fill="#000000"/>
<circle cx="185.17" cy="105.41" r="1.38" fill="#8c8c8c"/>
<circle cx="173.44" cy="105.42" r="1.38" fill="#000000"/>
<circle cx="182.29" cy="107.5" r="1.38" fill="#000000"/>
<circle cx="192.25" cy="106.17" r="1.38" fill="#8c8c8c"/>
<circle cx="182.04" cy="105.99" r="1.38" fill="#8c8c8c"/>
<circle cx="176.46" cy="68.82" r="1.38" fill="#000000"/>
<circle cx="181.53" cy="100.98" r="1.38" fill="#3a3a3a"/>
<circle cx="180.78" cy="78.14" r="1.38" fill="#3a3a3a"/>
<circle cx="172.44" cy="87.47" r="1.38" fill="#000000"/>
<circle cx="185.61" cy="108.61" r="1.38" fill="#000000"/>
<circle cx="236.81" cy="100.31" r="1.38" fill="#7c2616"/>
<circle cx="229.01" cy="109.63" r="1.38" fill="#e97a2a"/>
<circle cx="228.42" cy="108.88" r="1.38" fill="#e2591f"/>
<circle cx="232.9" cy="109.79" r="1.38" fill="#e97a2a"/>
<circle cx="229.99" cy="103.54" r="1.38" fill="#f2e61c"/>
<circle cx="216.96" cy="105.98" r="1.38" fill="#e2591f"/>
<circle cx="215.96" cy="98.63" r="1.38" fill="#7c2616"/>
<circle cx="225.91" cy="109.86" r="1.38" fill="#e2591f"/>
<circle cx="225.01" cy="97.69" r="1.38" fill="#a3191d"/>
<circle cx="217.03" cy="101.99" r="1.38" fill="#f2e61c"/>
<circle cx="239.88" cy="99.45" r="1.38" fill="#7c2616"/>
<circle cx="222.73" cy="103.96" r="1.38" fill="#f2e61c"/>
<circle cx="219.55" cy="105.29" r="1.38" fill="#f2e61c"/>
<circle cx="228.38" cy="97.29" r="1.38" fill="#a3191d"/>
<circle cx="236.27" cy="110.08" r="1.38" fill="#e97a2a"/>
<circle cx="212.96" cy="98.28" r="1.38" fill="#7c2616"/>
<circle cx="222.34" cy="99.41" r="1.38" fill="#7c2616"/>
<circle cx="213.92" cy="104.87" r="1.38" fill="#f2e61c"/>
<circle cx="229.44" cy="102.66" r="1.38" fill="#7c2616"/>
<circle cx="231.87" cy="97.68" r="1.38" fill="#a3191d"/>
<circle cx="227.87" cy="105.72" r="1.38" fill="#a3191d"/>
<circle cx="213.36" cy="106.86" r="1.38" fill="#a3191d"/>
<circle cx="227.94" cy="107.03" r="1.38" fill="#e97a2a"/>
<circle cx="231.46" cy="106.81" r="1.38" fill="#e97a2a"/>
<circle cx="228.24" cy="105.28" r="1.38" fill="#a3191d"/>
<circle cx="238.91" cy="108.49" r="1.38" fill="#e2591f"/>
<circle cx="221.95" cy="104.82" r="1.38" fill="#a3191d"/>
<circle cx="225.59" cy="105.11" r="1.38" fill="#f2e61c"/>
<circle cx="221.39" cy="109.15" r="1.38" fill="#e2591f"/>
<circle cx="227.19" cy="107.06" r="1.38" fill="#e97a2a"/>
<circle cx="218.38" cy="109.37" r="1.38" fill="#e2591f"/>
<circle cx="217.79" cy="109.58" r="1.38" fill="#e97a2a"/>
<circle cx="214.13" cy="103.7" r="1.38" fill="#a3191d"/>
<circle cx="213.68" cy="101.9" r="1.38" fill="#f2e61c"/>
<circle cx="235.01" cy="98.94" r="1.38" fill="#7c2616"/>
<circle cx="240.36" cy="105.38" r="1.38" fill="#e2591f"/>
<circle cx="234.03" cy="99.62" r="1.38" fill="#7c2616"/>
<circle cx="231.7" cy="106.28" r="1.38" fill="#e97a2a"/>
<circle cx="232.15" cy="101.17" r="1.38" fill="#7c2616"/>
<circle cx="220.83" cy="103.96" r="1.38" fill="#a3191d"/>
<circle cx="229.81" cy="110.3" r="1.38" fill="#e2591f"/>
<circle cx="214.37" cy="100.7" r="1.38" fill="#a3191d"/>
<circle cx="216.77" cy="105.53" r="1.38" fill="#e2591f"/>
<circle cx="235.65" cy="97.52" r="1.38" fill="#7c2616"/>
<circle cx="234.58" cy="106.77" r="1.38" fill="#e97a2a"/>
<circle cx="219.8" cy="97.62" r="1.38" fill="#7c2616"/>
<circle cx="233.48" cy="105.91" r="1.38" fill="#a3191d"/>
<circle cx="226.56" cy="101.62" r="1.38" fill="#7c2616"/>
<circle cx="222.46" cy="105.63" r="1.38" fill="#e97a2a"/>
<circle cx="235.18" cy="103.3" r="1.38" fill="#f2e61c"/>
<circle cx="217.24" cy="101.3" r="1.38" fill="#7c2616"/>
<circle cx="222.55" cy="98.36" r="1.38" fill="#a3191d"/>
<circle cx="230.2" cy="102.23" r="1.38" fill="#7c2616"/>
<circle cx="215.3" cy="107.09" r="1.38" fill="#e2591f"/>
<circle cx="222.81" cy="106.41" r="1.38" fill="#e97a2a"/>
<circle cx="236.97" cy="105.82" r="1.38" fill="#e2591f"/>
<circle cx="213.41" cy="107.35" r="1.38" fill="#e2591f"/>
<circle cx="213.85" cy="106.82" r="1.38" fill="#e2591f"/>
<circle cx="219.5" cy="107.24" r="1.38" fill="#e97a2a"/>
<circle cx="221.05" cy="108.24" r="1.38" fill="#e2591f"/>
<circle cx="213.06" cy="106.97" r="1.38" fill="#e97a2a"/>
<circle cx="233.1" cy="108.36" r="1.38" fill="#e97a2a"/>
<circle cx="229.33" cy="102.12" r="1.38" fill="#f2e61c"/>
<line x1="172.85" y1="97.28" x2="186.85" y2="97.28" stroke="#000" stroke-width="1.1"/>
<line x1="179.85" y1="96.3" x2="179.85" y2="98.26" stroke="#000" stroke-width="1"/>
<line x1="175.35" y1="96.3" x2="184.35" y2="96.3" stroke="#000" stroke-width="1"/>
<line x1="175.35" y1="98.26" x2="184.35" y2="98.26" stroke="#000" stroke-width="1"/>
<line x1="219.6" y1="106.11" x2="233.6" y2="106.11" stroke="#000" stroke-width="1.1"/>
<line x1="226.6" y1="105.62" x2="226.6" y2="106.6" stroke="#000" stroke-width="1"/>
<line x1="222.1" y1="105.62" x2="231.1" y2="105.62" stroke="#000" stroke-width="1"/>
<line x1="222.1" y1="106.6" x2="231.1" y2="106.6" stroke="#000" stroke-width="1"/>
<line x1="148.4" y1="112.5" x2="148.4" y2="38.39" stroke="#000" stroke-width="1.15"/>
<line x1="145.6" y1="112" x2="148.4" y2="112" stroke="#000" stroke-width="1.15"/>
<text x="145.3" y="114.38" font-size="6.6" font-weight="bold" text-anchor="end" fill="#000" >0</text>
<line x1="145.6" y1="87.47" x2="148.4" y2="87.47" stroke="#000" stroke-width="1.15"/>
<text x="145.3" y="89.84" font-size="6.6" font-weight="bold" text-anchor="end" fill="#000" >5</text>
<line x1="145.6" y1="62.93" x2="148.4" y2="62.93" stroke="#000" stroke-width="1.15"/>
<text x="145.3" y="65.31" font-size="6.6" font-weight="bold" text-anchor="end" fill="#000" >10</text>
<line x1="145.6" y1="38.39" x2="148.4" y2="38.39" stroke="#000" stroke-width="1.15"/>
<text x="145.3" y="40.77" font-size="6.6" font-weight="bold" text-anchor="end" fill="#000" >15</text>
<line x1="147.9" y1="112" x2="255.7" y2="112" stroke="#000" stroke-width="1.15"/>
<line x1="179.85" y1="112" x2="179.85" y2="114" stroke="#000" stroke-width="1"/>
<line x1="226.6" y1="112" x2="226.6" y2="114" stroke="#000" stroke-width="1"/>
<polyline points="178.3,47.4 178.3,40.3 229,40.3 229,85.2" fill="none" stroke="#000" stroke-width="1"/>
<text x="203.65" y="41.99" font-size="11" font-weight="bold" text-anchor="middle" fill="#000" >****</text>
<text transform="translate(125.22,74.5) rotate(-90)" font-size="7" font-weight="bold" text-anchor="middle">DNA Synthesis</text>
<text transform="translate(132.22,74.5) rotate(-90)" font-size="7" font-weight="bold" text-anchor="middle">(CPMs, 1X10<tspan font-size="4.4" dy="-2.6">4</tspan><tspan dy="2.6">)</tspan></text>
<text x="180" y="122.3" font-size="7.2" font-weight="bold" text-anchor="middle" fill="#000" >SIB-1072</text>
<text x="226.7" y="122.3" font-size="7.2" font-weight="bold" text-anchor="middle" fill="#000" >ASD-1072</text>
<rect x="524" y="61.84" width="29" height="43.36" fill="#fff" stroke="#000" stroke-width="1.25"/>
<rect x="567.1" y="79.05" width="29" height="26.15" fill="#fff" stroke="#000" stroke-width="1.25"/>
<circle cx="538.04" cy="65.91" r="1.38" fill="#8c8c8c"/>
<circle cx="547.25" cy="52.36" r="1.38" fill="#000000"/>
<circle cx="542.57" cy="75.39" r="1.38" fill="#000000"/>
<circle cx="538.3" cy="49.65" r="1.38" fill="#3a3a3a"/>
<circle cx="540.23" cy="56.42" r="1.38" fill="#c6c6c6"/>
<circle cx="536.67" cy="52.36" r="1.38" fill="#000000"/>
<circle cx="533.2" cy="53.03" r="1.38" fill="#000000"/>
<circle cx="542.12" cy="79.45" r="1.38" fill="#000000"/>
<circle cx="543.57" cy="45.58" r="1.38" fill="#c6c6c6"/>
<circle cx="542.46" cy="68.62" r="1.38" fill="#3a3a3a"/>
<circle cx="530.11" cy="53.71" r="1.38" fill="#c6c6c6"/>
<circle cx="539.03" cy="80.81" r="1.38" fill="#8c8c8c"/>
<circle cx="534.47" cy="69.97" r="1.38" fill="#000000"/>
<circle cx="530.49" cy="64.55" r="1.38" fill="#3a3a3a"/>
<circle cx="549.26" cy="56.42" r="1.38" fill="#3a3a3a"/>
<circle cx="550.55" cy="61.84" r="1.38" fill="#3a3a3a"/>
<circle cx="538.26" cy="74.03" r="1.38" fill="#8c8c8c"/>
<circle cx="527.31" cy="60.49" r="1.38" fill="#000000"/>
<circle cx="543.92" cy="60.49" r="1.38" fill="#8c8c8c"/>
<circle cx="542.36" cy="64.55" r="1.38" fill="#c6c6c6"/>
<circle cx="529.74" cy="57.78" r="1.38" fill="#8c8c8c"/>
<circle cx="536.55" cy="78.1" r="1.38" fill="#000000"/>
<circle cx="533.78" cy="61.84" r="1.38" fill="#8c8c8c"/>
<circle cx="534.8" cy="57.78" r="1.38" fill="#000000"/>
<circle cx="543.3" cy="55.07" r="1.38" fill="#8c8c8c"/>
<circle cx="539.41" cy="63.2" r="1.38" fill="#000000"/>
<circle cx="547.85" cy="59.13" r="1.38" fill="#000000"/>
<circle cx="550.1" cy="51" r="1.38" fill="#c6c6c6"/>
<circle cx="532.94" cy="67.26" r="1.38" fill="#000000"/>
<circle cx="546.27" cy="63.2" r="1.38" fill="#8c8c8c"/>
<circle cx="536.06" cy="45.58" r="1.38" fill="#c6c6c6"/>
<circle cx="577.71" cy="91.65" r="1.38" fill="#a3191d"/>
<circle cx="576.45" cy="82.17" r="1.38" fill="#e2591f"/>
<circle cx="581.2" cy="75.39" r="1.38" fill="#a3191d"/>
<circle cx="587.47" cy="86.23" r="1.38" fill="#e2591f"/>
<circle cx="574.43" cy="69.97" r="1.38" fill="#7c2616"/>
<circle cx="588.39" cy="74.03" r="1.38" fill="#7c2616"/>
<circle cx="577.38" cy="72.68" r="1.38" fill="#f2e61c"/>
<circle cx="589.78" cy="88.94" r="1.38" fill="#e2591f"/>
<circle cx="590.37" cy="76.75" r="1.38" fill="#e2591f"/>
<circle cx="577.39" cy="87.59" r="1.38" fill="#e97a2a"/>
<circle cx="585.98" cy="68.62" r="1.38" fill="#f2e61c"/>
<circle cx="573.53" cy="86.23" r="1.38" fill="#a3191d"/>
<circle cx="585.06" cy="76.75" r="1.38" fill="#a3191d"/>
<circle cx="582.91" cy="71.33" r="1.38" fill="#7c2616"/>
<circle cx="584.33" cy="93" r="1.38" fill="#e97a2a"/>
<circle cx="582.81" cy="63.2" r="1.38" fill="#7c2616"/>
<circle cx="571.07" cy="83.52" r="1.38" fill="#a3191d"/>
<circle cx="582.79" cy="59.13" r="1.38" fill="#7c2616"/>
<circle cx="582.9" cy="79.45" r="1.38" fill="#a3191d"/>
<circle cx="591.57" cy="82.17" r="1.38" fill="#e97a2a"/>
<circle cx="575.01" cy="90.3" r="1.38" fill="#e97a2a"/>
<circle cx="577.66" cy="78.1" r="1.38" fill="#e97a2a"/>
<circle cx="571.17" cy="79.45" r="1.38" fill="#e2591f"/>
<circle cx="589.12" cy="69.97" r="1.38" fill="#f2e61c"/>
<circle cx="580.07" cy="80.81" r="1.38" fill="#e97a2a"/>
<circle cx="581.27" cy="84.88" r="1.38" fill="#e97a2a"/>
<line x1="531.5" y1="61.84" x2="545.5" y2="61.84" stroke="#000" stroke-width="1.1"/>
<line x1="538.5" y1="60.08" x2="538.5" y2="63.6" stroke="#000" stroke-width="1"/>
<line x1="534" y1="60.08" x2="543" y2="60.08" stroke="#000" stroke-width="1"/>
<line x1="534" y1="63.6" x2="543" y2="63.6" stroke="#000" stroke-width="1"/>
<line x1="574.6" y1="79.05" x2="588.6" y2="79.05" stroke="#000" stroke-width="1.1"/>
<line x1="581.6" y1="77.15" x2="581.6" y2="80.95" stroke="#000" stroke-width="1"/>
<line x1="577.1" y1="77.15" x2="586.1" y2="77.15" stroke="#000" stroke-width="1"/>
<line x1="577.1" y1="80.95" x2="586.1" y2="80.95" stroke="#000" stroke-width="1"/>
<line x1="509.5" y1="105.7" x2="509.5" y2="37.45" stroke="#000" stroke-width="1.15"/>
<line x1="506.7" y1="105.2" x2="509.5" y2="105.2" stroke="#000" stroke-width="1.15"/>
<text x="506.4" y="107.58" font-size="6.6" font-weight="bold" text-anchor="end" fill="#000" >0</text>
<line x1="506.7" y1="91.65" x2="509.5" y2="91.65" stroke="#000" stroke-width="1.15"/>
<text x="506.4" y="94.03" font-size="6.6" font-weight="bold" text-anchor="end" fill="#000" >10</text>
<line x1="506.7" y1="78.1" x2="509.5" y2="78.1" stroke="#000" stroke-width="1.15"/>
<text x="506.4" y="80.48" font-size="6.6" font-weight="bold" text-anchor="end" fill="#000" >20</text>
<line x1="506.7" y1="64.55" x2="509.5" y2="64.55" stroke="#000" stroke-width="1.15"/>
<text x="506.4" y="66.93" font-size="6.6" font-weight="bold" text-anchor="end" fill="#000" >30</text>
<line x1="506.7" y1="51" x2="509.5" y2="51" stroke="#000" stroke-width="1.15"/>
<text x="506.4" y="53.38" font-size="6.6" font-weight="bold" text-anchor="end" fill="#000" >40</text>
<line x1="506.7" y1="37.45" x2="509.5" y2="37.45" stroke="#000" stroke-width="1.15"/>
<text x="506.4" y="39.83" font-size="6.6" font-weight="bold" text-anchor="end" fill="#000" >50</text>
<line x1="509" y1="105.2" x2="604" y2="105.2" stroke="#000" stroke-width="1.15"/>
<line x1="538.5" y1="105.2" x2="538.5" y2="107.2" stroke="#000" stroke-width="1"/>
<line x1="581.6" y1="105.2" x2="581.6" y2="107.2" stroke="#000" stroke-width="1"/>
<polyline points="538.6,39.9 538.6,33.4 581.7,33.4 581.7,48.5" fill="none" stroke="#000" stroke-width="1"/>
<text x="560.15" y="33.78" font-size="9.5" font-weight="bold" text-anchor="middle" fill="#000" >****</text>
<text transform="translate(496.8,70.5) rotate(-90) scale(0.9,1)" font-size="7.22" font-weight="bold" text-anchor="middle">S-Phase Entry (EdU LI)</text>
<text transform="translate(538.6,114.9) scale(0.91,1)" font-size="7.2" font-weight="bold" text-anchor="middle">SIB-1072</text>
<text transform="translate(581.7,114.9) scale(0.91,1)" font-size="7.2" font-weight="bold" text-anchor="middle">ASD-1072</text>
<rect x="662.1" y="85.33" width="29.2" height="17.77" fill="#fff" stroke="#000" stroke-width="1.25"/>
<rect x="705.7" y="75.24" width="29" height="27.86" fill="#fff" stroke="#000" stroke-width="1.25"/>
<circle cx="668.62" cy="78.87" r="1.38" fill="#8c8c8c"/>
<circle cx="678.75" cy="70.8" r="1.38" fill="#c6c6c6"/>
<circle cx="676.24" cy="84.26" r="1.38" fill="#3a3a3a"/>
<circle cx="664.94" cy="83.58" r="1.38" fill="#8c8c8c"/>
<circle cx="673.97" cy="88.29" r="1.38" fill="#000000"/>
<circle cx="674.23" cy="75.51" r="1.38" fill="#000000"/>
<circle cx="685" cy="86.95" r="1.38" fill="#3a3a3a"/>
<circle cx="665.56" cy="87.62" r="1.38" fill="#8c8c8c"/>
<circle cx="679.68" cy="92.33" r="1.38" fill="#000000"/>
<circle cx="681.58" cy="77.53" r="1.38" fill="#c6c6c6"/>
<circle cx="669.71" cy="90.99" r="1.38" fill="#000000"/>
<circle cx="668.99" cy="82.91" r="1.38" fill="#000000"/>
<circle cx="671.24" cy="84.93" r="1.38" fill="#000000"/>
<circle cx="679.24" cy="86.27" r="1.38" fill="#000000"/>
<circle cx="676.92" cy="90.31" r="1.38" fill="#3a3a3a"/>
<circle cx="678.91" cy="80.22" r="1.38" fill="#000000"/>
<circle cx="687.09" cy="89.64" r="1.38" fill="#000000"/>
<circle cx="685.59" cy="81.56" r="1.38" fill="#8c8c8c"/>
<circle cx="712.38" cy="77.53" r="1.38" fill="#a3191d"/>
<circle cx="726.55" cy="79.54" r="1.38" fill="#e97a2a"/>
<circle cx="715.4" cy="66.08" r="1.38" fill="#e97a2a"/>
<circle cx="719.88" cy="82.91" r="1.38" fill="#7c2616"/>
<circle cx="715.02" cy="85.6" r="1.38" fill="#a3191d"/>
<circle cx="712.07" cy="68.78" r="1.38" fill="#e97a2a"/>
<circle cx="722.19" cy="80.89" r="1.38" fill="#e97a2a"/>
<circle cx="721.61" cy="74.83" r="1.38" fill="#e2591f"/>
<circle cx="723.92" cy="72.81" r="1.38" fill="#e97a2a"/>
<circle cx="716.16" cy="74.16" r="1.38" fill="#a3191d"/>
<circle cx="728.48" cy="70.8" r="1.38" fill="#7c2616"/>
<circle cx="724.92" cy="76.18" r="1.38" fill="#e2591f"/>
<circle cx="719.02" cy="51.28" r="1.38" fill="#7c2616"/>
<circle cx="721.68" cy="86.27" r="1.38" fill="#e2591f"/>
<circle cx="724.3" cy="66.76" r="1.38" fill="#7c2616"/>
<line x1="669.7" y1="85.33" x2="683.7" y2="85.33" stroke="#000" stroke-width="1.1"/>
<line x1="676.7" y1="83.99" x2="676.7" y2="86.68" stroke="#000" stroke-width="1"/>
<line x1="672.2" y1="83.99" x2="681.2" y2="83.99" stroke="#000" stroke-width="1"/>
<line x1="672.2" y1="86.68" x2="681.2" y2="86.68" stroke="#000" stroke-width="1"/>
<line x1="713.2" y1="75.24" x2="727.2" y2="75.24" stroke="#000" stroke-width="1.1"/>
<line x1="720.2" y1="72.55" x2="720.2" y2="77.93" stroke="#000" stroke-width="1"/>
<line x1="715.7" y1="72.55" x2="724.7" y2="72.55" stroke="#000" stroke-width="1"/>
<line x1="715.7" y1="77.93" x2="724.7" y2="77.93" stroke="#000" stroke-width="1"/>
<line x1="647.8" y1="103.6" x2="647.8" y2="35.8" stroke="#000" stroke-width="1.15"/>
<line x1="645" y1="103.1" x2="647.8" y2="103.1" stroke="#000" stroke-width="1.15"/>
<text x="644.7" y="105.48" font-size="6.6" font-weight="bold" text-anchor="end" fill="#000" >0</text>
<line x1="645" y1="89.64" x2="647.8" y2="89.64" stroke="#000" stroke-width="1.15"/>
<text x="644.7" y="92.02" font-size="6.6" font-weight="bold" text-anchor="end" fill="#000" >100</text>
<line x1="645" y1="76.18" x2="647.8" y2="76.18" stroke="#000" stroke-width="1.15"/>
<text x="644.7" y="78.56" font-size="6.6" font-weight="bold" text-anchor="end" fill="#000" >200</text>
<line x1="645" y1="62.72" x2="647.8" y2="62.72" stroke="#000" stroke-width="1.15"/>
<text x="644.7" y="65.1" font-size="6.6" font-weight="bold" text-anchor="end" fill="#000" >300</text>
<line x1="645" y1="49.26" x2="647.8" y2="49.26" stroke="#000" stroke-width="1.15"/>
<text x="644.7" y="51.64" font-size="6.6" font-weight="bold" text-anchor="end" fill="#000" >400</text>
<line x1="645" y1="35.8" x2="647.8" y2="35.8" stroke="#000" stroke-width="1.15"/>
<text x="644.7" y="38.18" font-size="6.6" font-weight="bold" text-anchor="end" fill="#000" >500</text>
<line x1="647.3" y1="103.1" x2="742.4" y2="103.1" stroke="#000" stroke-width="1.15"/>
<line x1="676.7" y1="103.1" x2="676.7" y2="105.1" stroke="#000" stroke-width="1"/>
<line x1="720.2" y1="103.1" x2="720.2" y2="105.1" stroke="#000" stroke-width="1"/>
<polyline points="676.3,66.5 676.3,39.6 720.2,39.6 720.2,46.7" fill="none" stroke="#000" stroke-width="1"/>
<text x="698.25" y="38.65" font-size="10" font-weight="bold" text-anchor="middle" fill="#000" >***</text>
<text transform="translate(631.54,68.5) rotate(-90) scale(0.9,1)" font-size="7.33" font-weight="bold" text-anchor="middle">Cell Death (CC3+ cells)</text>
<text transform="translate(677,111.7) scale(0.91,1)" font-size="7.2" font-weight="bold" text-anchor="middle">SIB-1072</text>
<text transform="translate(720.3,111.7) scale(0.91,1)" font-size="7.2" font-weight="bold" text-anchor="middle">ASD-1072</text>
<rect x="161.2" y="218.81" width="31.9" height="26.39" fill="#fff" stroke="#000" stroke-width="1.25"/>
<rect x="208.8" y="223.91" width="31.8" height="21.29" fill="#fff" stroke="#000" stroke-width="1.25"/>
<circle cx="166.65" cy="236.98" r="1.38" fill="#8c8c8c"/>
<circle cx="190.19" cy="206.71" r="1.38" fill="#000000"/>
<circle cx="173.9" cy="213.63" r="1.38" fill="#000000"/>
<circle cx="167.8" cy="228.87" r="1.38" fill="#8c8c8c"/>
<circle cx="185.57" cy="216.58" r="1.38" fill="#8c8c8c"/>
<circle cx="191.04" cy="225.6" r="1.38" fill="#000000"/>
<circle cx="190.89" cy="205.06" r="1.38" fill="#8c8c8c"/>
<circle cx="177.39" cy="216.1" r="1.38" fill="#000000"/>
<circle cx="168.75" cy="201.97" r="1.38" fill="#8c8c8c"/>
<circle cx="190.17" cy="210.29" r="1.38" fill="#000000"/>
<circle cx="169.91" cy="231.07" r="1.38" fill="#8c8c8c"/>
<circle cx="168.91" cy="208.45" r="1.38" fill="#000000"/>
<circle cx="188.11" cy="224.31" r="1.38" fill="#000000"/>
<circle cx="164.62" cy="232.82" r="1.38" fill="#000000"/>
<circle cx="184.46" cy="204.05" r="1.38" fill="#8c8c8c"/>
<circle cx="164.52" cy="229.77" r="1.38" fill="#000000"/>
<circle cx="180.9" cy="201.02" r="1.38" fill="#000000"/>
<circle cx="178.22" cy="228.35" r="1.38" fill="#8c8c8c"/>
<circle cx="163.38" cy="216.17" r="1.38" fill="#8c8c8c"/>
<circle cx="177.1" cy="234.45" r="1.38" fill="#000000"/>
<circle cx="175.75" cy="200.85" r="1.38" fill="#000000"/>
<circle cx="170.5" cy="211.45" r="1.38" fill="#8c8c8c"/>
<circle cx="167.88" cy="202.86" r="1.38" fill="#000000"/>
<circle cx="178.48" cy="221.21" r="1.38" fill="#000000"/>
<circle cx="185.2" cy="231.35" r="1.38" fill="#8c8c8c"/>
<circle cx="176.23" cy="202.31" r="1.38" fill="#8c8c8c"/>
<circle cx="171.56" cy="182.41" r="1.38" fill="#8c8c8c"/>
<circle cx="185.42" cy="232.42" r="1.38" fill="#000000"/>
<circle cx="179.91" cy="234.12" r="1.38" fill="#8c8c8c"/>
<circle cx="186.09" cy="211.08" r="1.38" fill="#8c8c8c"/>
<circle cx="179.31" cy="185.14" r="1.38" fill="#8c8c8c"/>
<circle cx="175.35" cy="205.52" r="1.38" fill="#000000"/>
<circle cx="190.42" cy="198.79" r="1.38" fill="#000000"/>
<circle cx="189.65" cy="234.54" r="1.38" fill="#8c8c8c"/>
<circle cx="183.98" cy="202.34" r="1.38" fill="#000000"/>
<circle cx="174.36" cy="226.02" r="1.38" fill="#8c8c8c"/>
<circle cx="172.99" cy="202.05" r="1.38" fill="#000000"/>
<circle cx="173.41" cy="236.3" r="1.38" fill="#8c8c8c"/>
<circle cx="172.68" cy="233.04" r="1.38" fill="#8c8c8c"/>
<circle cx="188.1" cy="206.72" r="1.38" fill="#000000"/>
<circle cx="172.35" cy="218.46" r="1.38" fill="#8c8c8c"/>
<circle cx="182.74" cy="230.69" r="1.38" fill="#000000"/>
<circle cx="164.37" cy="224.48" r="1.38" fill="#8c8c8c"/>
<circle cx="190.34" cy="225.38" r="1.38" fill="#000000"/>
<circle cx="188.03" cy="185.14" r="1.38" fill="#8c8c8c"/>
<circle cx="183.69" cy="207.32" r="1.38" fill="#8c8c8c"/>
<circle cx="184.84" cy="185.14" r="1.38" fill="#8c8c8c"/>
<circle cx="178.12" cy="197.88" r="1.38" fill="#000000"/>
<circle cx="177.09" cy="189.69" r="1.38" fill="#8c8c8c"/>
<circle cx="167.94" cy="210.81" r="1.38" fill="#8c8c8c"/>
<circle cx="170.37" cy="236.68" r="1.38" fill="#8c8c8c"/>
<circle cx="176.93" cy="237.16" r="1.38" fill="#000000"/>
<circle cx="163.19" cy="208.2" r="1.38" fill="#000000"/>
<circle cx="190.59" cy="217.93" r="1.38" fill="#000000"/>
<circle cx="173.05" cy="229.83" r="1.38" fill="#000000"/>
<circle cx="169.05" cy="217.56" r="1.38" fill="#000000"/>
<circle cx="183.11" cy="210.69" r="1.38" fill="#000000"/>
<circle cx="165.23" cy="232.72" r="1.38" fill="#8c8c8c"/>
<circle cx="162.83" cy="213.21" r="1.38" fill="#000000"/>
<circle cx="173.87" cy="210.21" r="1.38" fill="#8c8c8c"/>
<circle cx="177.01" cy="232.75" r="1.38" fill="#000000"/>
<circle cx="169.37" cy="229.85" r="1.38" fill="#8c8c8c"/>
<circle cx="181.64" cy="222.53" r="1.38" fill="#000000"/>
<circle cx="172.16" cy="232.52" r="1.38" fill="#8c8c8c"/>
<circle cx="184.34" cy="200.75" r="1.38" fill="#000000"/>
<circle cx="165.05" cy="202.28" r="1.38" fill="#000000"/>
<circle cx="188.32" cy="203.48" r="1.38" fill="#8c8c8c"/>
<circle cx="180.45" cy="237.46" r="1.38" fill="#000000"/>
<circle cx="181.96" cy="217.5" r="1.38" fill="#000000"/>
<circle cx="188.91" cy="236.79" r="1.38" fill="#000000"/>
<circle cx="190.51" cy="208.17" r="1.38" fill="#8c8c8c"/>
<circle cx="168.43" cy="216.83" r="1.38" fill="#8c8c8c"/>
<circle cx="177.14" cy="224.66" r="1.38" fill="#000000"/>
<circle cx="172.19" cy="207.1" r="1.38" fill="#8c8c8c"/>
<circle cx="168.88" cy="222.89" r="1.38" fill="#000000"/>
<circle cx="168.51" cy="233.73" r="1.38" fill="#000000"/>
<circle cx="191.26" cy="231.22" r="1.38" fill="#8c8c8c"/>
<circle cx="177.89" cy="207.09" r="1.38" fill="#8c8c8c"/>
<circle cx="176.26" cy="229.43" r="1.38" fill="#8c8c8c"/>
<circle cx="186.29" cy="221.86" r="1.38" fill="#8c8c8c"/>
<circle cx="182.21" cy="230.73" r="1.38" fill="#000000"/>
<circle cx="186.11" cy="234.26" r="1.38" fill="#8c8c8c"/>
<circle cx="166.22" cy="212.75" r="1.38" fill="#000000"/>
<circle cx="182.28" cy="229.74" r="1.38" fill="#000000"/>
<circle cx="164.56" cy="219.4" r="1.38" fill="#8c8c8c"/>
<circle cx="173.81" cy="185.5" r="1.38" fill="#8c8c8c"/>
<circle cx="164.49" cy="203.17" r="1.38" fill="#8c8c8c"/>
<circle cx="182.25" cy="214.01" r="1.38" fill="#000000"/>
<circle cx="186.79" cy="223.84" r="1.38" fill="#8c8c8c"/>
<circle cx="182.97" cy="230.31" r="1.38" fill="#000000"/>
<circle cx="178.17" cy="222.79" r="1.38" fill="#8c8c8c"/>
<circle cx="171.2" cy="226.49" r="1.38" fill="#000000"/>
<circle cx="176.04" cy="206.63" r="1.38" fill="#000000"/>
<circle cx="190.96" cy="235.26" r="1.38" fill="#8c8c8c"/>
<circle cx="179.73" cy="225.32" r="1.38" fill="#8c8c8c"/>
<circle cx="163.38" cy="235.65" r="1.38" fill="#8c8c8c"/>
<circle cx="180.7" cy="208.11" r="1.38" fill="#8c8c8c"/>
<circle cx="183.26" cy="236.37" r="1.38" fill="#000000"/>
<circle cx="175.76" cy="218.95" r="1.38" fill="#8c8c8c"/>
<circle cx="165.1" cy="210.5" r="1.38" fill="#000000"/>
<circle cx="191.36" cy="185.32" r="1.38" fill="#8c8c8c"/>
<circle cx="191.32" cy="234.43" r="1.38" fill="#000000"/>
<circle cx="178.14" cy="209.68" r="1.38" fill="#8c8c8c"/>
<circle cx="163.56" cy="205.71" r="1.38" fill="#8c8c8c"/>
<circle cx="179.44" cy="229.27" r="1.38" fill="#000000"/>
<circle cx="163.63" cy="201.49" r="1.38" fill="#000000"/>
<circle cx="188.11" cy="230.51" r="1.38" fill="#000000"/>
<circle cx="165.79" cy="213.79" r="1.38" fill="#000000"/>
<circle cx="175.23" cy="223.14" r="1.38" fill="#000000"/>
<circle cx="185.37" cy="226.25" r="1.38" fill="#8c8c8c"/>
<circle cx="190.29" cy="209.65" r="1.38" fill="#000000"/>
<circle cx="183.79" cy="230.07" r="1.38" fill="#000000"/>
<circle cx="169.27" cy="184.96" r="1.38" fill="#8c8c8c"/>
<circle cx="167.7" cy="220.09" r="1.38" fill="#8c8c8c"/>
<circle cx="167.14" cy="231.34" r="1.38" fill="#000000"/>
<circle cx="176.67" cy="212.41" r="1.38" fill="#000000"/>
<circle cx="164.52" cy="184.78" r="1.38" fill="#8c8c8c"/>
<circle cx="186.84" cy="233.72" r="1.38" fill="#000000"/>
<circle cx="167.26" cy="225.45" r="1.38" fill="#000000"/>
<circle cx="172.08" cy="223.26" r="1.38" fill="#000000"/>
<circle cx="188.84" cy="214.65" r="1.38" fill="#000000"/>
<circle cx="179.29" cy="203.56" r="1.38" fill="#000000"/>
<circle cx="176.75" cy="233.45" r="1.38" fill="#8c8c8c"/>
<circle cx="233.8" cy="209.34" r="1.38" fill="#4a8cf6"/>
<circle cx="215.52" cy="235.89" r="1.38" fill="#16167a"/>
<circle cx="212.95" cy="221.07" r="1.38" fill="#4a8cf6"/>
<circle cx="211.87" cy="236.68" r="1.38" fill="#16167a"/>
<circle cx="222.42" cy="224.9" r="1.38" fill="#16167a"/>
<circle cx="238.24" cy="224.73" r="1.38" fill="#16167a"/>
<circle cx="215.57" cy="224.94" r="1.38" fill="#16167a"/>
<circle cx="223.51" cy="234.33" r="1.38" fill="#16167a"/>
<circle cx="226.81" cy="225.94" r="1.38" fill="#4a8cf6"/>
<circle cx="213.12" cy="232.3" r="1.38" fill="#16167a"/>
<circle cx="231.51" cy="233.73" r="1.38" fill="#16167a"/>
<circle cx="221.29" cy="225.49" r="1.38" fill="#4a8cf6"/>
<circle cx="225.9" cy="231.12" r="1.38" fill="#16167a"/>
<circle cx="238.65" cy="211.54" r="1.38" fill="#4a8cf6"/>
<circle cx="238.1" cy="207.76" r="1.38" fill="#4a8cf6"/>
<circle cx="218.75" cy="212.68" r="1.38" fill="#4a8cf6"/>
<circle cx="230.21" cy="225.52" r="1.38" fill="#4a8cf6"/>
<circle cx="233.37" cy="205.79" r="1.38" fill="#4a8cf6"/>
<circle cx="216.27" cy="214.59" r="1.38" fill="#4a8cf6"/>
<circle cx="221.1" cy="226.35" r="1.38" fill="#16167a"/>
<circle cx="218.14" cy="221.12" r="1.38" fill="#4a8cf6"/>
<circle cx="234.81" cy="231.42" r="1.38" fill="#16167a"/>
<circle cx="233.47" cy="213.69" r="1.38" fill="#4a8cf6"/>
<circle cx="235.38" cy="226.91" r="1.38" fill="#16167a"/>
<circle cx="235.42" cy="219.83" r="1.38" fill="#4a8cf6"/>
<circle cx="220.64" cy="204.31" r="1.38" fill="#4a8cf6"/>
<circle cx="237.29" cy="236.56" r="1.38" fill="#16167a"/>
<circle cx="224.4" cy="224.11" r="1.38" fill="#4a8cf6"/>
<circle cx="218.07" cy="226.82" r="1.38" fill="#16167a"/>
<circle cx="234.75" cy="223.39" r="1.38" fill="#16167a"/>
<circle cx="237.84" cy="232.55" r="1.38" fill="#16167a"/>
<circle cx="220.01" cy="230.18" r="1.38" fill="#16167a"/>
<circle cx="219.84" cy="218.43" r="1.38" fill="#4a8cf6"/>
<circle cx="230.48" cy="236.73" r="1.38" fill="#16167a"/>
<circle cx="236.87" cy="223.94" r="1.38" fill="#16167a"/>
<circle cx="238.07" cy="223.83" r="1.38" fill="#16167a"/>
<circle cx="216.59" cy="223.12" r="1.38" fill="#16167a"/>
<circle cx="238.61" cy="229.58" r="1.38" fill="#16167a"/>
<circle cx="238.77" cy="221.57" r="1.38" fill="#4a8cf6"/>
<circle cx="231.26" cy="211.31" r="1.38" fill="#4a8cf6"/>
<circle cx="211.88" cy="225.41" r="1.38" fill="#4a8cf6"/>
<circle cx="224.05" cy="216.49" r="1.38" fill="#4a8cf6"/>
<circle cx="216.89" cy="232.29" r="1.38" fill="#16167a"/>
<circle cx="229.03" cy="230.69" r="1.38" fill="#16167a"/>
<circle cx="227.04" cy="222.55" r="1.38" fill="#4a8cf6"/>
<circle cx="226.65" cy="210.7" r="1.38" fill="#4a8cf6"/>
<circle cx="215.07" cy="210.21" r="1.38" fill="#4a8cf6"/>
<circle cx="213.63" cy="225.31" r="1.38" fill="#16167a"/>
<circle cx="231.58" cy="218.35" r="1.38" fill="#4a8cf6"/>
<circle cx="214.3" cy="228.8" r="1.38" fill="#16167a"/>
<circle cx="219.57" cy="234.31" r="1.38" fill="#16167a"/>
<circle cx="228.01" cy="225.03" r="1.38" fill="#16167a"/>
<circle cx="224.02" cy="221.01" r="1.38" fill="#4a8cf6"/>
<circle cx="222.99" cy="207.68" r="1.38" fill="#4a8cf6"/>
<line x1="170.15" y1="218.81" x2="184.15" y2="218.81" stroke="#000" stroke-width="1.1"/>
<line x1="177.15" y1="217.9" x2="177.15" y2="219.72" stroke="#000" stroke-width="1"/>
<line x1="172.65" y1="217.9" x2="181.65" y2="217.9" stroke="#000" stroke-width="1"/>
<line x1="172.65" y1="219.72" x2="181.65" y2="219.72" stroke="#000" stroke-width="1"/>
<line x1="217.7" y1="223.91" x2="231.7" y2="223.91" stroke="#000" stroke-width="1.1"/>
<line x1="224.7" y1="223" x2="224.7" y2="224.82" stroke="#000" stroke-width="1"/>
<line x1="220.2" y1="223" x2="229.2" y2="223" stroke="#000" stroke-width="1"/>
<line x1="220.2" y1="224.82" x2="229.2" y2="224.82" stroke="#000" stroke-width="1"/>
<line x1="146.1" y1="245.7" x2="146.1" y2="172.4" stroke="#000" stroke-width="1.15"/>
<line x1="143.3" y1="245.2" x2="146.1" y2="245.2" stroke="#000" stroke-width="1.15"/>
<text x="143" y="247.58" font-size="6.6" font-weight="bold" text-anchor="end" fill="#000" >0</text>
<line x1="143.3" y1="227" x2="146.1" y2="227" stroke="#000" stroke-width="1.15"/>
<text x="143" y="229.38" font-size="6.6" font-weight="bold" text-anchor="end" fill="#000" >1</text>
<line x1="143.3" y1="208.8" x2="146.1" y2="208.8" stroke="#000" stroke-width="1.15"/>
<text x="143" y="211.18" font-size="6.6" font-weight="bold" text-anchor="end" fill="#000" >2</text>
<line x1="143.3" y1="190.6" x2="146.1" y2="190.6" stroke="#000" stroke-width="1.15"/>
<text x="143" y="192.98" font-size="6.6" font-weight="bold" text-anchor="end" fill="#000" >3</text>
<line x1="143.3" y1="172.4" x2="146.1" y2="172.4" stroke="#000" stroke-width="1.15"/>
<text x="143" y="174.78" font-size="6.6" font-weight="bold" text-anchor="end" fill="#000" >4</text>
<line x1="145.6" y1="245.2" x2="250.3" y2="245.2" stroke="#000" stroke-width="1.15"/>
<line x1="177.15" y1="245.2" x2="177.15" y2="247.2" stroke="#000" stroke-width="1"/>
<line x1="224.7" y1="245.2" x2="224.7" y2="247.2" stroke="#000" stroke-width="1"/>
<polyline points="177.3,180.4 177.3,172.6 223.9,172.6 223.9,197.5" fill="none" stroke="#000" stroke-width="1"/>
<text x="200.6" y="174.5" font-size="11" font-weight="bold" text-anchor="middle" fill="#000" >**</text>
<text transform="translate(123.42,207.5) rotate(-90)" font-size="7" font-weight="bold" text-anchor="middle">DNA Synthesis</text>
<text transform="translate(130.22,207.5) rotate(-90)" font-size="7" font-weight="bold" text-anchor="middle">(CPMs, 1X10<tspan font-size="4.4" dy="-2.6">4</tspan><tspan dy="2.6">)</tspan></text>
<text x="177.2" y="255.4" font-size="7.2" font-weight="bold" text-anchor="middle" fill="#000" >SIB-1012</text>
<text x="224.6" y="255.4" font-size="7.2" font-weight="bold" text-anchor="middle" fill="#000" >ASD-1012</text>
<rect x="526.3" y="189.96" width="29.3" height="50.74" fill="#fff" stroke="#000" stroke-width="1.25"/>
<rect x="569.8" y="190.86" width="29.6" height="49.84" fill="#fff" stroke="#000" stroke-width="1.25"/>
<circle cx="533.02" cy="195.8" r="1.38" fill="#000000"/>
<circle cx="540.63" cy="189.06" r="1.38" fill="#8c8c8c"/>
<circle cx="543.63" cy="191.31" r="1.38" fill="#8c8c8c"/>
<circle cx="535.9" cy="177.84" r="1.38" fill="#8c8c8c"/>
<circle cx="543.72" cy="186.82" r="1.38" fill="#000000"/>
<circle cx="538.01" cy="200.29" r="1.38" fill="#000000"/>
<circle cx="549.95" cy="191.31" r="1.38" fill="#000000"/>
<circle cx="544.18" cy="182.33" r="1.38" fill="#000000"/>
<circle cx="535.09" cy="189.06" r="1.38" fill="#000000"/>
<circle cx="544.35" cy="202.53" r="1.38" fill="#000000"/>
<circle cx="533.95" cy="184.57" r="1.38" fill="#000000"/>
<circle cx="544.23" cy="198.04" r="1.38" fill="#8c8c8c"/>
<circle cx="539.66" cy="180.08" r="1.38" fill="#8c8c8c"/>
<circle cx="537.67" cy="193.55" r="1.38" fill="#8c8c8c"/>
<circle cx="548.07" cy="186.82" r="1.38" fill="#8c8c8c"/>
<circle cx="537.45" cy="182.33" r="1.38" fill="#000000"/>
<circle cx="549.95" cy="182.33" r="1.38" fill="#8c8c8c"/>
<circle cx="549.16" cy="195.8" r="1.38" fill="#8c8c8c"/>
<circle cx="576.8" cy="182.33" r="1.38" fill="#4a8cf6"/>
<circle cx="580.32" cy="177.84" r="1.38" fill="#4a8cf6"/>
<circle cx="583.46" cy="186.82" r="1.38" fill="#16167a"/>
<circle cx="584.03" cy="180.08" r="1.38" fill="#4a8cf6"/>
<circle cx="589.23" cy="195.8" r="1.38" fill="#4a8cf6"/>
<circle cx="596.07" cy="189.06" r="1.38" fill="#16167a"/>
<circle cx="571.93" cy="195.8" r="1.38" fill="#16167a"/>
<circle cx="577.04" cy="189.06" r="1.38" fill="#16167a"/>
<circle cx="596.53" cy="193.55" r="1.38" fill="#4a8cf6"/>
<circle cx="574.13" cy="191.31" r="1.38" fill="#16167a"/>
<circle cx="580.86" cy="191.31" r="1.38" fill="#4a8cf6"/>
<circle cx="574.05" cy="198.04" r="1.38" fill="#4a8cf6"/>
<circle cx="586.04" cy="204.78" r="1.38" fill="#16167a"/>
<circle cx="586.5" cy="191.31" r="1.38" fill="#4a8cf6"/>
<circle cx="594.62" cy="184.57" r="1.38" fill="#4a8cf6"/>
<circle cx="580.29" cy="200.29" r="1.38" fill="#16167a"/>
<circle cx="592.37" cy="186.82" r="1.38" fill="#4a8cf6"/>
<circle cx="583.72" cy="193.55" r="1.38" fill="#16167a"/>
<line x1="533.95" y1="189.96" x2="547.95" y2="189.96" stroke="#000" stroke-width="1.1"/>
<line x1="540.95" y1="188.17" x2="540.95" y2="191.76" stroke="#000" stroke-width="1"/>
<line x1="536.45" y1="188.17" x2="545.45" y2="188.17" stroke="#000" stroke-width="1"/>
<line x1="536.45" y1="191.76" x2="545.45" y2="191.76" stroke="#000" stroke-width="1"/>
<line x1="577.6" y1="190.86" x2="591.6" y2="190.86" stroke="#000" stroke-width="1.1"/>
<line x1="584.6" y1="189.06" x2="584.6" y2="192.66" stroke="#000" stroke-width="1"/>
<line x1="580.1" y1="189.06" x2="589.1" y2="189.06" stroke="#000" stroke-width="1"/>
<line x1="580.1" y1="192.66" x2="589.1" y2="192.66" stroke="#000" stroke-width="1"/>
<line x1="512.5" y1="241.2" x2="512.5" y2="173.35" stroke="#000" stroke-width="1.15"/>
<line x1="509.7" y1="240.7" x2="512.5" y2="240.7" stroke="#000" stroke-width="1.15"/>
<text x="509.4" y="243.08" font-size="6.6" font-weight="bold" text-anchor="end" fill="#000" >0</text>
<line x1="509.7" y1="218.25" x2="512.5" y2="218.25" stroke="#000" stroke-width="1.15"/>
<text x="509.4" y="220.63" font-size="6.6" font-weight="bold" text-anchor="end" fill="#000" >10</text>
<line x1="509.7" y1="195.8" x2="512.5" y2="195.8" stroke="#000" stroke-width="1.15"/>
<text x="509.4" y="198.18" font-size="6.6" font-weight="bold" text-anchor="end" fill="#000" >20</text>
<line x1="509.7" y1="173.35" x2="512.5" y2="173.35" stroke="#000" stroke-width="1.15"/>
<text x="509.4" y="175.73" font-size="6.6" font-weight="bold" text-anchor="end" fill="#000" >30</text>
<line x1="512" y1="240.7" x2="607" y2="240.7" stroke="#000" stroke-width="1.15"/>
<line x1="540.95" y1="240.7" x2="540.95" y2="242.7" stroke="#000" stroke-width="1"/>
<line x1="584.6" y1="240.7" x2="584.6" y2="242.7" stroke="#000" stroke-width="1"/>
<polyline points="541.2,176.1 541.2,169.6 585.4,169.6 585.4,176.1" fill="none" stroke="#000" stroke-width="1"/>
<text x="563.3" y="165.36" font-size="7" font-weight="normal" text-anchor="middle" fill="#000" >ns</text>
<text transform="translate(499.64,204.3) rotate(-90) scale(0.9,1)" font-size="7.33" font-weight="bold" text-anchor="middle">S-Phase Entry (EdU LI)</text>
<text x="541.4" y="249.7" font-size="7.2" font-weight="bold" text-anchor="middle" fill="#000" >SIB-102</text>
<text x="585.2" y="249.7" font-size="7.2" font-weight="bold" text-anchor="middle" fill="#000" >ASD-1012</text>
<rect x="662.5" y="206.04" width="28.7" height="33.16" fill="#fff" stroke="#000" stroke-width="1.25"/>
<rect x="705.7" y="198.81" width="28.7" height="40.39" fill="#fff" stroke="#000" stroke-width="1.25"/>
<circle cx="674.39" cy="201.33" r="1.38" fill="#000000"/>
<circle cx="671.28" cy="210.59" r="1.38" fill="#000000"/>
<circle cx="682.68" cy="199.65" r="1.38" fill="#000000"/>
<circle cx="668.23" cy="200.49" r="1.38" fill="#000000"/>
<circle cx="680.42" cy="219" r="1.38" fill="#000000"/>
<circle cx="680" cy="202.17" r="1.38" fill="#8c8c8c"/>
<circle cx="678.25" cy="212.27" r="1.38" fill="#8c8c8c"/>
<circle cx="677.79" cy="198.81" r="1.38" fill="#8c8c8c"/>
<circle cx="677.52" cy="220.69" r="1.38" fill="#000000"/>
<circle cx="673.13" cy="221.53" r="1.38" fill="#000000"/>
<circle cx="679.06" cy="190.39" r="1.38" fill="#8c8c8c"/>
<circle cx="671.37" cy="190.39" r="1.38" fill="#8c8c8c"/>
<circle cx="675.96" cy="208.06" r="1.38" fill="#8c8c8c"/>
<circle cx="718.46" cy="203.02" r="1.38" fill="#16167a"/>
<circle cx="719.12" cy="198.81" r="1.38" fill="#4a8cf6"/>
<circle cx="720.18" cy="185.34" r="1.38" fill="#4a8cf6"/>
<circle cx="720.98" cy="190.39" r="1.38" fill="#4a8cf6"/>
<circle cx="723.58" cy="196.28" r="1.38" fill="#4a8cf6"/>
<circle cx="716.1" cy="197.97" r="1.38" fill="#16167a"/>
<circle cx="722.86" cy="201.33" r="1.38" fill="#4a8cf6"/>
<circle cx="721" cy="194.6" r="1.38" fill="#4a8cf6"/>
<circle cx="727.43" cy="199.65" r="1.38" fill="#16167a"/>
<circle cx="721.11" cy="207.22" r="1.38" fill="#16167a"/>
<circle cx="717.15" cy="192.92" r="1.38" fill="#4a8cf6"/>
<circle cx="714.97" cy="206.38" r="1.38" fill="#16167a"/>
<line x1="669.85" y1="206.04" x2="683.85" y2="206.04" stroke="#000" stroke-width="1.1"/>
<line x1="676.85" y1="203.02" x2="676.85" y2="209.07" stroke="#000" stroke-width="1"/>
<line x1="672.35" y1="203.02" x2="681.35" y2="203.02" stroke="#000" stroke-width="1"/>
<line x1="672.35" y1="209.07" x2="681.35" y2="209.07" stroke="#000" stroke-width="1"/>
<line x1="713.05" y1="198.81" x2="727.05" y2="198.81" stroke="#000" stroke-width="1.1"/>
<line x1="720.05" y1="197.12" x2="720.05" y2="200.49" stroke="#000" stroke-width="1"/>
<line x1="715.55" y1="197.12" x2="724.55" y2="197.12" stroke="#000" stroke-width="1"/>
<line x1="715.55" y1="200.49" x2="724.55" y2="200.49" stroke="#000" stroke-width="1"/>
<line x1="648" y1="239.7" x2="648" y2="171.88" stroke="#000" stroke-width="1.15"/>
<line x1="645.2" y1="239.2" x2="648" y2="239.2" stroke="#000" stroke-width="1.15"/>
<text x="644.9" y="241.58" font-size="6.6" font-weight="bold" text-anchor="end" fill="#000" >0</text>
<line x1="645.2" y1="222.37" x2="648" y2="222.37" stroke="#000" stroke-width="1.15"/>
<text x="644.9" y="224.75" font-size="6.6" font-weight="bold" text-anchor="end" fill="#000" >100</text>
<line x1="645.2" y1="205.54" x2="648" y2="205.54" stroke="#000" stroke-width="1.15"/>
<text x="644.9" y="207.92" font-size="6.6" font-weight="bold" text-anchor="end" fill="#000" >200</text>
<line x1="645.2" y1="188.71" x2="648" y2="188.71" stroke="#000" stroke-width="1.15"/>
<text x="644.9" y="191.09" font-size="6.6" font-weight="bold" text-anchor="end" fill="#000" >300</text>
<line x1="645.2" y1="171.88" x2="648" y2="171.88" stroke="#000" stroke-width="1.15"/>
<text x="644.9" y="174.26" font-size="6.6" font-weight="bold" text-anchor="end" fill="#000" >400</text>
<line x1="647.5" y1="239.2" x2="743.5" y2="239.2" stroke="#000" stroke-width="1.15"/>
<line x1="676.85" y1="239.2" x2="676.85" y2="241.2" stroke="#000" stroke-width="1"/>
<line x1="720.05" y1="239.2" x2="720.05" y2="241.2" stroke="#000" stroke-width="1"/>
<polyline points="676.8,186.4 676.8,173.3 720.4,173.3 720.4,180.6" fill="none" stroke="#000" stroke-width="1"/>
<text x="698.6" y="174.3" font-size="11" font-weight="bold" text-anchor="middle" fill="#000" >*</text>
<text transform="translate(631.74,204.4) rotate(-90) scale(0.9,1)" font-size="7.33" font-weight="bold" text-anchor="middle">Cell Death (CC3+ cells)</text>
<text x="677" y="248.8" font-size="7.2" font-weight="bold" text-anchor="middle" fill="#000" >SIB-1012</text>
<text x="720.2" y="248.8" font-size="7.2" font-weight="bold" text-anchor="middle" fill="#000" >ASD-1012</text>
<rect x="162.1" y="362.14" width="32.6" height="12.46" fill="#fff" stroke="#000" stroke-width="1.25"/>
<rect x="209.1" y="342.91" width="32.7" height="31.69" fill="#fff" stroke="#000" stroke-width="1.25"/>
<circle cx="172.86" cy="361.77" r="1.38" fill="#8c8c8c"/>
<circle cx="191.38" cy="363.93" r="1.38" fill="#000000"/>
<circle cx="176.25" cy="369.02" r="1.38" fill="#8c8c8c"/>
<circle cx="172.29" cy="361.72" r="1.38" fill="#000000"/>
<circle cx="169.48" cy="362.93" r="1.38" fill="#8c8c8c"/>
<circle cx="179.11" cy="368.07" r="1.38" fill="#8c8c8c"/>
<circle cx="187.82" cy="372.58" r="1.38" fill="#8c8c8c"/>
<circle cx="178.58" cy="368.99" r="1.38" fill="#000000"/>
<circle cx="170.5" cy="364.93" r="1.38" fill="#000000"/>
<circle cx="165.42" cy="367.84" r="1.38" fill="#8c8c8c"/>
<circle cx="166.22" cy="370.14" r="1.38" fill="#8c8c8c"/>
<circle cx="172.56" cy="368.46" r="1.38" fill="#8c8c8c"/>
<circle cx="190.71" cy="344.37" r="1.38" fill="#8c8c8c"/>
<circle cx="181.6" cy="358.44" r="1.38" fill="#000000"/>
<circle cx="177.52" cy="356.37" r="1.38" fill="#8c8c8c"/>
<circle cx="174" cy="366.06" r="1.38" fill="#8c8c8c"/>
<circle cx="175.68" cy="349.04" r="1.38" fill="#8c8c8c"/>
<circle cx="168.32" cy="359.79" r="1.38" fill="#000000"/>
<circle cx="175.07" cy="364.51" r="1.38" fill="#000000"/>
<circle cx="173.71" cy="362" r="1.38" fill="#8c8c8c"/>
<circle cx="189.84" cy="368.24" r="1.38" fill="#8c8c8c"/>
<circle cx="184.62" cy="368.97" r="1.38" fill="#8c8c8c"/>
<circle cx="188.45" cy="356.64" r="1.38" fill="#8c8c8c"/>
<circle cx="165.04" cy="365.66" r="1.38" fill="#000000"/>
<circle cx="179.07" cy="356.77" r="1.38" fill="#8c8c8c"/>
<circle cx="170.44" cy="362.94" r="1.38" fill="#000000"/>
<circle cx="177.09" cy="358.84" r="1.38" fill="#000000"/>
<circle cx="167.93" cy="343.46" r="1.38" fill="#8c8c8c"/>
<circle cx="163.91" cy="369.75" r="1.38" fill="#8c8c8c"/>
<circle cx="185.24" cy="362.25" r="1.38" fill="#8c8c8c"/>
<circle cx="179.86" cy="358.63" r="1.38" fill="#8c8c8c"/>
<circle cx="164.03" cy="362.85" r="1.38" fill="#8c8c8c"/>
<circle cx="182.28" cy="349.34" r="1.38" fill="#000000"/>
<circle cx="164.22" cy="361.7" r="1.38" fill="#8c8c8c"/>
<circle cx="165.73" cy="367.06" r="1.38" fill="#8c8c8c"/>
<circle cx="187.47" cy="358.67" r="1.38" fill="#000000"/>
<circle cx="184.67" cy="357.95" r="1.38" fill="#8c8c8c"/>
<circle cx="175.87" cy="363.8" r="1.38" fill="#8c8c8c"/>
<circle cx="187.73" cy="352.77" r="1.38" fill="#000000"/>
<circle cx="174.59" cy="357.36" r="1.38" fill="#000000"/>
<circle cx="169.96" cy="368.1" r="1.38" fill="#000000"/>
<circle cx="175.5" cy="342.54" r="1.38" fill="#8c8c8c"/>
<circle cx="173.01" cy="364.79" r="1.38" fill="#8c8c8c"/>
<circle cx="174.38" cy="365.96" r="1.38" fill="#8c8c8c"/>
<circle cx="190.46" cy="356.75" r="1.38" fill="#000000"/>
<circle cx="167.13" cy="356.48" r="1.38" fill="#000000"/>
<circle cx="168.17" cy="353.01" r="1.38" fill="#8c8c8c"/>
<circle cx="191.29" cy="360.13" r="1.38" fill="#000000"/>
<circle cx="188.3" cy="356.53" r="1.38" fill="#8c8c8c"/>
<circle cx="188.6" cy="369.37" r="1.38" fill="#8c8c8c"/>
<circle cx="183.78" cy="356.33" r="1.38" fill="#000000"/>
<circle cx="186.58" cy="366.38" r="1.38" fill="#8c8c8c"/>
<circle cx="170.34" cy="346.2" r="1.38" fill="#8c8c8c"/>
<circle cx="177.28" cy="360.22" r="1.38" fill="#000000"/>
<circle cx="189.08" cy="370.24" r="1.38" fill="#000000"/>
<circle cx="169.53" cy="368.33" r="1.38" fill="#000000"/>
<circle cx="173.72" cy="369.93" r="1.38" fill="#000000"/>
<circle cx="171.34" cy="356.52" r="1.38" fill="#000000"/>
<circle cx="165" cy="364.05" r="1.38" fill="#000000"/>
<circle cx="169.11" cy="358.9" r="1.38" fill="#000000"/>
<circle cx="169.4" cy="361.91" r="1.38" fill="#000000"/>
<circle cx="192.52" cy="365.55" r="1.38" fill="#000000"/>
<circle cx="191.54" cy="371.62" r="1.38" fill="#8c8c8c"/>
<circle cx="183.03" cy="360.36" r="1.38" fill="#8c8c8c"/>
<circle cx="173.29" cy="369.68" r="1.38" fill="#000000"/>
<circle cx="163.91" cy="358.01" r="1.38" fill="#8c8c8c"/>
<circle cx="191.77" cy="357.14" r="1.38" fill="#8c8c8c"/>
<circle cx="176.18" cy="365.02" r="1.38" fill="#000000"/>
<circle cx="164.96" cy="369.96" r="1.38" fill="#8c8c8c"/>
<circle cx="191.24" cy="367.54" r="1.38" fill="#000000"/>
<circle cx="174.29" cy="361.31" r="1.38" fill="#000000"/>
<circle cx="182.36" cy="365.91" r="1.38" fill="#8c8c8c"/>
<circle cx="180.23" cy="362.84" r="1.38" fill="#000000"/>
<circle cx="177.32" cy="345.29" r="1.38" fill="#8c8c8c"/>
<circle cx="176.66" cy="358.23" r="1.38" fill="#8c8c8c"/>
<circle cx="171.45" cy="357.21" r="1.38" fill="#000000"/>
<circle cx="186.51" cy="357.65" r="1.38" fill="#000000"/>
<circle cx="179.58" cy="360.99" r="1.38" fill="#000000"/>
<circle cx="170.7" cy="371.87" r="1.38" fill="#8c8c8c"/>
<circle cx="188.64" cy="362.35" r="1.38" fill="#000000"/>
<circle cx="170.74" cy="357.61" r="1.38" fill="#8c8c8c"/>
<circle cx="185.63" cy="360.8" r="1.38" fill="#8c8c8c"/>
<circle cx="187.63" cy="362.37" r="1.38" fill="#8c8c8c"/>
<circle cx="164.55" cy="357.24" r="1.38" fill="#8c8c8c"/>
<circle cx="192.72" cy="354.64" r="1.38" fill="#8c8c8c"/>
<circle cx="179.04" cy="351.45" r="1.38" fill="#8c8c8c"/>
<circle cx="192.89" cy="367.15" r="1.38" fill="#000000"/>
<circle cx="192.82" cy="368.56" r="1.38" fill="#000000"/>
<circle cx="176.84" cy="360.04" r="1.38" fill="#000000"/>
<circle cx="174.66" cy="362.9" r="1.38" fill="#000000"/>
<circle cx="177.63" cy="359.42" r="1.38" fill="#000000"/>
<circle cx="166.19" cy="359.77" r="1.38" fill="#000000"/>
<circle cx="192.08" cy="363.27" r="1.38" fill="#8c8c8c"/>
<circle cx="171.22" cy="352.3" r="1.38" fill="#8c8c8c"/>
<circle cx="185.2" cy="357.36" r="1.38" fill="#000000"/>
<circle cx="177.65" cy="371.86" r="1.38" fill="#8c8c8c"/>
<circle cx="192.82" cy="367.37" r="1.38" fill="#000000"/>
<circle cx="183.31" cy="372.2" r="1.38" fill="#8c8c8c"/>
<circle cx="187.23" cy="358.86" r="1.38" fill="#000000"/>
<circle cx="169.39" cy="363.58" r="1.38" fill="#000000"/>
<circle cx="170.06" cy="359.94" r="1.38" fill="#8c8c8c"/>
<circle cx="167" cy="365.11" r="1.38" fill="#000000"/>
<circle cx="167.76" cy="370.52" r="1.38" fill="#000000"/>
<circle cx="191.1" cy="359" r="1.38" fill="#000000"/>
<circle cx="166.65" cy="362.41" r="1.38" fill="#8c8c8c"/>
<circle cx="223.99" cy="335.21" r="1.38" fill="#1a3a10"/>
<circle cx="233.05" cy="346.2" r="1.38" fill="#1a3a10"/>
<circle cx="227.83" cy="344.37" r="1.38" fill="#4fa22c"/>
<circle cx="226.49" cy="369.1" r="1.38" fill="#4fa22c"/>
<circle cx="232.12" cy="322.39" r="1.38" fill="#4fa22c"/>
<circle cx="226.27" cy="329.72" r="1.38" fill="#74d044"/>
<circle cx="225" cy="325.14" r="1.38" fill="#1a3a10"/>
<circle cx="214.31" cy="364.52" r="1.38" fill="#4fa22c"/>
<circle cx="219.45" cy="347.12" r="1.38" fill="#74d044"/>
<circle cx="226.85" cy="357.2" r="1.38" fill="#4fa22c"/>
<circle cx="227.97" cy="353.53" r="1.38" fill="#74d044"/>
<circle cx="233.66" cy="317.81" r="1.38" fill="#1a3a10"/>
<circle cx="229.57" cy="320.56" r="1.38" fill="#1a3a10"/>
<circle cx="224.02" cy="365.44" r="1.38" fill="#74d044"/>
<circle cx="228.99" cy="326.97" r="1.38" fill="#74d044"/>
<circle cx="235.97" cy="362.69" r="1.38" fill="#74d044"/>
<circle cx="233.7" cy="332.46" r="1.38" fill="#1a3a10"/>
<circle cx="219.68" cy="324.22" r="1.38" fill="#74d044"/>
<circle cx="225.6" cy="316.89" r="1.38" fill="#1a3a10"/>
<circle cx="227.87" cy="336.13" r="1.38" fill="#74d044"/>
<circle cx="229.28" cy="332.46" r="1.38" fill="#4fa22c"/>
<circle cx="226.68" cy="339.79" r="1.38" fill="#4fa22c"/>
<circle cx="230.82" cy="363.61" r="1.38" fill="#1a3a10"/>
<circle cx="220.67" cy="351.7" r="1.38" fill="#1a3a10"/>
<circle cx="232.2" cy="350.78" r="1.38" fill="#4fa22c"/>
<circle cx="225.23" cy="348.95" r="1.38" fill="#74d044"/>
<circle cx="220.51" cy="342.54" r="1.38" fill="#74d044"/>
<circle cx="218.15" cy="319.64" r="1.38" fill="#74d044"/>
<circle cx="222.41" cy="361.78" r="1.38" fill="#1a3a10"/>
<circle cx="219.37" cy="333.38" r="1.38" fill="#1a3a10"/>
<line x1="171.4" y1="362.14" x2="185.4" y2="362.14" stroke="#000" stroke-width="1.1"/>
<line x1="178.4" y1="361.5" x2="178.4" y2="362.78" stroke="#000" stroke-width="1"/>
<line x1="173.9" y1="361.5" x2="182.9" y2="361.5" stroke="#000" stroke-width="1"/>
<line x1="173.9" y1="362.78" x2="182.9" y2="362.78" stroke="#000" stroke-width="1"/>
<line x1="218.45" y1="342.91" x2="232.45" y2="342.91" stroke="#000" stroke-width="1.1"/>
<line x1="225.45" y1="340.16" x2="225.45" y2="345.65" stroke="#000" stroke-width="1"/>
<line x1="220.95" y1="340.16" x2="229.95" y2="340.16" stroke="#000" stroke-width="1"/>
<line x1="220.95" y1="345.65" x2="229.95" y2="345.65" stroke="#000" stroke-width="1"/>
<line x1="147.5" y1="375.1" x2="147.5" y2="301.32" stroke="#000" stroke-width="1.15"/>
<line x1="144.7" y1="374.6" x2="147.5" y2="374.6" stroke="#000" stroke-width="1.15"/>
<text x="144.4" y="376.98" font-size="6.6" font-weight="bold" text-anchor="end" fill="#000" >0</text>
<line x1="144.7" y1="356.28" x2="147.5" y2="356.28" stroke="#000" stroke-width="1.15"/>
<text x="144.4" y="358.66" font-size="6.6" font-weight="bold" text-anchor="end" fill="#000" >2</text>
<line x1="144.7" y1="337.96" x2="147.5" y2="337.96" stroke="#000" stroke-width="1.15"/>
<text x="144.4" y="340.34" font-size="6.6" font-weight="bold" text-anchor="end" fill="#000" >4</text>
<line x1="144.7" y1="319.64" x2="147.5" y2="319.64" stroke="#000" stroke-width="1.15"/>
<text x="144.4" y="322.02" font-size="6.6" font-weight="bold" text-anchor="end" fill="#000" >6</text>
<line x1="144.7" y1="301.32" x2="147.5" y2="301.32" stroke="#000" stroke-width="1.15"/>
<text x="144.4" y="303.7" font-size="6.6" font-weight="bold" text-anchor="end" fill="#000" >8</text>
<line x1="147" y1="374.6" x2="250.7" y2="374.6" stroke="#000" stroke-width="1.15"/>
<line x1="178.4" y1="374.6" x2="178.4" y2="376.6" stroke="#000" stroke-width="1"/>
<line x1="225.45" y1="374.6" x2="225.45" y2="376.6" stroke="#000" stroke-width="1"/>
<polyline points="178.2,331.8 178.2,305.7 226.4,305.7 226.4,313.6" fill="none" stroke="#000" stroke-width="1"/>
<text x="202.3" y="307.3" font-size="11" font-weight="bold" text-anchor="middle" fill="#000" >****</text>
<text transform="translate(123.62,337.5) rotate(-90)" font-size="7" font-weight="bold" text-anchor="middle">DNA Synthesis</text>
<text transform="translate(130.42,337.5) rotate(-90)" font-size="7" font-weight="bold" text-anchor="middle">(CPMs, 1X10<tspan font-size="4.4" dy="-2.6">4</tspan><tspan dy="2.6">)</tspan></text>
<text x="178.1" y="385" font-size="7.2" font-weight="bold" text-anchor="middle" fill="#000" >SIB-1077</text>
<text x="225.1" y="385" font-size="7.2" font-weight="bold" text-anchor="middle" fill="#000" >ASD-1077</text>
<rect x="527.4" y="331.9" width="29.4" height="43.1" fill="#fff" stroke="#000" stroke-width="1.25"/>
<rect x="569.7" y="332.07" width="29.7" height="42.93" fill="#fff" stroke="#000" stroke-width="1.25"/>
<circle cx="554.2" cy="324.3" r="1.38" fill="#000000"/>
<circle cx="537.36" cy="324.3" r="1.38" fill="#8c8c8c"/>
<circle cx="548.7" cy="317.54" r="1.38" fill="#000000"/>
<circle cx="540.39" cy="351.34" r="1.38" fill="#8c8c8c"/>
<circle cx="534.74" cy="325.99" r="1.38" fill="#000000"/>
<circle cx="544.47" cy="327.68" r="1.38" fill="#8c8c8c"/>
<circle cx="540.59" cy="322.61" r="1.38" fill="#000000"/>
<circle cx="542.97" cy="319.23" r="1.38" fill="#000000"/>
<circle cx="536.67" cy="317.54" r="1.38" fill="#8c8c8c"/>
<circle cx="541.6" cy="347.96" r="1.38" fill="#8c8c8c"/>
<circle cx="537.13" cy="341.2" r="1.38" fill="#000000"/>
<circle cx="546.43" cy="339.51" r="1.38" fill="#8c8c8c"/>
<circle cx="537.4" cy="349.65" r="1.38" fill="#8c8c8c"/>
<circle cx="534.12" cy="322.61" r="1.38" fill="#000000"/>
<circle cx="582.28" cy="329.37" r="1.38" fill="#74d044"/>
<circle cx="584.7" cy="325.99" r="1.38" fill="#1a3a10"/>
<circle cx="586.29" cy="317.54" r="1.38" fill="#1a3a10"/>
<circle cx="582.19" cy="341.2" r="1.38" fill="#4fa22c"/>
<circle cx="585.23" cy="337.82" r="1.38" fill="#74d044"/>
<circle cx="586.67" cy="346.27" r="1.38" fill="#1a3a10"/>
<line x1="535.1" y1="331.9" x2="549.1" y2="331.9" stroke="#000" stroke-width="1.1"/>
<line x1="542.1" y1="329.03" x2="542.1" y2="334.78" stroke="#000" stroke-width="1"/>
<line x1="537.6" y1="329.03" x2="546.6" y2="329.03" stroke="#000" stroke-width="1"/>
<line x1="537.6" y1="334.78" x2="546.6" y2="334.78" stroke="#000" stroke-width="1"/>
<line x1="577.55" y1="332.07" x2="591.55" y2="332.07" stroke="#000" stroke-width="1.1"/>
<line x1="584.55" y1="328.19" x2="584.55" y2="335.96" stroke="#000" stroke-width="1"/>
<line x1="580.05" y1="328.19" x2="589.05" y2="328.19" stroke="#000" stroke-width="1"/>
<line x1="580.05" y1="335.96" x2="589.05" y2="335.96" stroke="#000" stroke-width="1"/>
<line x1="513" y1="375.5" x2="513" y2="307.4" stroke="#000" stroke-width="1.15"/>
<line x1="510.2" y1="375" x2="513" y2="375" stroke="#000" stroke-width="1.15"/>
<text x="509.9" y="377.38" font-size="6.6" font-weight="bold" text-anchor="end" fill="#000" >0</text>
<line x1="510.2" y1="358.1" x2="513" y2="358.1" stroke="#000" stroke-width="1.15"/>
<text x="509.9" y="360.48" font-size="6.6" font-weight="bold" text-anchor="end" fill="#000" >10</text>
<line x1="510.2" y1="341.2" x2="513" y2="341.2" stroke="#000" stroke-width="1.15"/>
<text x="509.9" y="343.58" font-size="6.6" font-weight="bold" text-anchor="end" fill="#000" >20</text>
<line x1="510.2" y1="324.3" x2="513" y2="324.3" stroke="#000" stroke-width="1.15"/>
<text x="509.9" y="326.68" font-size="6.6" font-weight="bold" text-anchor="end" fill="#000" >30</text>
<line x1="510.2" y1="307.4" x2="513" y2="307.4" stroke="#000" stroke-width="1.15"/>
<text x="509.9" y="309.78" font-size="6.6" font-weight="bold" text-anchor="end" fill="#000" >40</text>
<line x1="512.5" y1="375" x2="608" y2="375" stroke="#000" stroke-width="1.15"/>
<line x1="542.1" y1="375" x2="542.1" y2="377" stroke="#000" stroke-width="1"/>
<line x1="584.55" y1="375" x2="584.55" y2="377" stroke="#000" stroke-width="1"/>
<polyline points="541.5,310.6 541.5,303.3 585.9,303.3 585.9,310.6" fill="none" stroke="#000" stroke-width="1"/>
<text x="563.7" y="296.76" font-size="7" font-weight="normal" text-anchor="middle" fill="#000" >ns</text>
<text transform="translate(500.4,340.4) rotate(-90) scale(0.9,1)" font-size="7.22" font-weight="bold" text-anchor="middle">S-Phase Entry (EdU LI)</text>
<text x="541.5" y="385" font-size="7.2" font-weight="bold" text-anchor="middle" fill="#000" >SIB-1077</text>
<text x="585.7" y="385" font-size="7.2" font-weight="bold" text-anchor="middle" fill="#000" >ASD-1077</text>
<rect x="663" y="337.34" width="29.8" height="31.96" fill="#fff" stroke="#000" stroke-width="1.25"/>
<rect x="705.6" y="342.61" width="29.5" height="26.69" fill="#fff" stroke="#000" stroke-width="1.25"/>
<circle cx="685.55" cy="347.2" r="1.38" fill="#8c8c8c"/>
<circle cx="674.64" cy="345.5" r="1.38" fill="#000000"/>
<circle cx="670.35" cy="348.9" r="1.38" fill="#000000"/>
<circle cx="679.41" cy="340.4" r="1.38" fill="#8c8c8c"/>
<circle cx="676.8" cy="342.95" r="1.38" fill="#8c8c8c"/>
<circle cx="681.27" cy="328.5" r="1.38" fill="#000000"/>
<circle cx="675.26" cy="319.15" r="1.38" fill="#000000"/>
<circle cx="668.99" cy="342.1" r="1.38" fill="#8c8c8c"/>
<circle cx="684.85" cy="341.25" r="1.38" fill="#000000"/>
<circle cx="677.17" cy="348.05" r="1.38" fill="#000000"/>
<circle cx="672.3" cy="330.2" r="1.38" fill="#8c8c8c"/>
<circle cx="675.73" cy="315.75" r="1.38" fill="#000000"/>
<circle cx="678.87" cy="334.45" r="1.38" fill="#8c8c8c"/>
<circle cx="675.07" cy="332.75" r="1.38" fill="#000000"/>
<circle cx="675.05" cy="337" r="1.38" fill="#000000"/>
<circle cx="671.56" cy="338.7" r="1.38" fill="#8c8c8c"/>
<circle cx="685.47" cy="335.3" r="1.38" fill="#000000"/>
<circle cx="678.04" cy="322.55" r="1.38" fill="#000000"/>
<circle cx="715.92" cy="351.45" r="1.38" fill="#4fa22c"/>
<circle cx="727.56" cy="350.6" r="1.38" fill="#1a3a10"/>
<circle cx="715.8" cy="343.8" r="1.38" fill="#1a3a10"/>
<circle cx="720.41" cy="345.5" r="1.38" fill="#74d044"/>
<circle cx="725.99" cy="338.7" r="1.38" fill="#1a3a10"/>
<circle cx="718.84" cy="348.9" r="1.38" fill="#4fa22c"/>
<circle cx="725.12" cy="342.95" r="1.38" fill="#74d044"/>
<circle cx="711.76" cy="340.4" r="1.38" fill="#74d044"/>
<circle cx="720.53" cy="334.45" r="1.38" fill="#1a3a10"/>
<circle cx="717.57" cy="341.25" r="1.38" fill="#1a3a10"/>
<circle cx="719.72" cy="329.35" r="1.38" fill="#1a3a10"/>
<circle cx="722.92" cy="347.2" r="1.38" fill="#1a3a10"/>
<circle cx="721.59" cy="342.1" r="1.38" fill="#74d044"/>
<circle cx="715.97" cy="337" r="1.38" fill="#74d044"/>
<line x1="670.9" y1="337.34" x2="684.9" y2="337.34" stroke="#000" stroke-width="1.1"/>
<line x1="677.9" y1="335.3" x2="677.9" y2="339.38" stroke="#000" stroke-width="1"/>
<line x1="673.4" y1="335.3" x2="682.4" y2="335.3" stroke="#000" stroke-width="1"/>
<line x1="673.4" y1="339.38" x2="682.4" y2="339.38" stroke="#000" stroke-width="1"/>
<line x1="713.35" y1="342.61" x2="727.35" y2="342.61" stroke="#000" stroke-width="1.1"/>
<line x1="720.35" y1="341.08" x2="720.35" y2="344.14" stroke="#000" stroke-width="1"/>
<line x1="715.85" y1="341.08" x2="724.85" y2="341.08" stroke="#000" stroke-width="1"/>
<line x1="715.85" y1="344.14" x2="724.85" y2="344.14" stroke="#000" stroke-width="1"/>
<line x1="648.9" y1="369.8" x2="648.9" y2="301.3" stroke="#000" stroke-width="1.15"/>
<line x1="646.1" y1="369.3" x2="648.9" y2="369.3" stroke="#000" stroke-width="1.15"/>
<text x="645.8" y="371.68" font-size="6.6" font-weight="bold" text-anchor="end" fill="#000" >0</text>
<line x1="646.1" y1="352.3" x2="648.9" y2="352.3" stroke="#000" stroke-width="1.15"/>
<text x="645.8" y="354.68" font-size="6.6" font-weight="bold" text-anchor="end" fill="#000" >100</text>
<line x1="646.1" y1="335.3" x2="648.9" y2="335.3" stroke="#000" stroke-width="1.15"/>
<text x="645.8" y="337.68" font-size="6.6" font-weight="bold" text-anchor="end" fill="#000" >200</text>
<line x1="646.1" y1="318.3" x2="648.9" y2="318.3" stroke="#000" stroke-width="1.15"/>
<text x="645.8" y="320.68" font-size="6.6" font-weight="bold" text-anchor="end" fill="#000" >300</text>
<line x1="646.1" y1="301.3" x2="648.9" y2="301.3" stroke="#000" stroke-width="1.15"/>
<text x="645.8" y="303.68" font-size="6.6" font-weight="bold" text-anchor="end" fill="#000" >400</text>
<line x1="648.4" y1="369.3" x2="744.7" y2="369.3" stroke="#000" stroke-width="1.15"/>
<line x1="677.9" y1="369.3" x2="677.9" y2="371.3" stroke="#000" stroke-width="1"/>
<line x1="720.35" y1="369.3" x2="720.35" y2="371.3" stroke="#000" stroke-width="1"/>
<polyline points="678.3,309.9 678.3,302.9 722.4,302.9 722.4,309.9" fill="none" stroke="#000" stroke-width="1"/>
<text x="700.35" y="301.36" font-size="7" font-weight="normal" text-anchor="middle" fill="#000" >ns</text>
<text transform="translate(632.84,334.5) rotate(-90) scale(0.9,1)" font-size="7.33" font-weight="bold" text-anchor="middle">Cell Death (CC3+ cells)</text>
<text x="678.1" y="378.7" font-size="7.2" font-weight="bold" text-anchor="middle" fill="#000" >SIB-1077</text>
<text x="721.6" y="378.7" font-size="7.2" font-weight="bold" text-anchor="middle" fill="#000" >ASD-1077</text>
<rect x="299.4" y="99.68" width="8.9" height="10.72" fill="#808080" stroke="#000" stroke-width="1.15"/>
<rect x="312.4" y="104.37" width="9.2" height="6.03" fill="#e0782c" stroke="#000" stroke-width="1.15"/>
<rect x="334.6" y="85.61" width="9.1" height="24.79" fill="#808080" stroke="#000" stroke-width="1.15"/>
<rect x="347" y="101.02" width="9.2" height="9.38" fill="#e0782c" stroke="#000" stroke-width="1.15"/>
<rect x="369.2" y="57.92" width="9.8" height="52.48" fill="#808080" stroke="#000" stroke-width="1.15"/>
<rect x="382.5" y="89.86" width="9.5" height="20.54" fill="#e0782c" stroke="#000" stroke-width="1.15"/>
<line x1="303.85" y1="99.01" x2="303.85" y2="100.35" stroke="#000" stroke-width="1"/>
<line x1="301.25" y1="99.01" x2="306.45" y2="99.01" stroke="#000" stroke-width="1"/>
<line x1="301.25" y1="100.35" x2="306.45" y2="100.35" stroke="#000" stroke-width="1"/>
<line x1="317" y1="103.7" x2="317" y2="105.04" stroke="#000" stroke-width="1"/>
<line x1="314.4" y1="103.7" x2="319.6" y2="103.7" stroke="#000" stroke-width="1"/>
<line x1="314.4" y1="105.04" x2="319.6" y2="105.04" stroke="#000" stroke-width="1"/>
<line x1="339.15" y1="84.27" x2="339.15" y2="86.95" stroke="#000" stroke-width="1"/>
<line x1="336.55" y1="84.27" x2="341.75" y2="84.27" stroke="#000" stroke-width="1"/>
<line x1="336.55" y1="86.95" x2="341.75" y2="86.95" stroke="#000" stroke-width="1"/>
<line x1="351.6" y1="100.35" x2="351.6" y2="101.69" stroke="#000" stroke-width="1"/>
<line x1="349" y1="100.35" x2="354.2" y2="100.35" stroke="#000" stroke-width="1"/>
<line x1="349" y1="101.69" x2="354.2" y2="101.69" stroke="#000" stroke-width="1"/>
<line x1="374.1" y1="53.46" x2="374.1" y2="62.39" stroke="#000" stroke-width="1"/>
<line x1="371.5" y1="53.46" x2="376.7" y2="53.46" stroke="#000" stroke-width="1"/>
<line x1="371.5" y1="62.39" x2="376.7" y2="62.39" stroke="#000" stroke-width="1"/>
<line x1="387.25" y1="87.4" x2="387.25" y2="92.31" stroke="#000" stroke-width="1"/>
<line x1="384.65" y1="87.4" x2="389.85" y2="87.4" stroke="#000" stroke-width="1"/>
<line x1="384.65" y1="92.31" x2="389.85" y2="92.31" stroke="#000" stroke-width="1"/>
<line x1="295.1" y1="110.9" x2="295.1" y2="43.41" stroke="#000" stroke-width="1.15"/>
<line x1="292.3" y1="110.4" x2="295.1" y2="110.4" stroke="#000" stroke-width="1.15"/>
<text x="292" y="112.63" font-size="6.2" font-weight="bold" text-anchor="end" fill="#000" >0</text>
<line x1="292.3" y1="88.07" x2="295.1" y2="88.07" stroke="#000" stroke-width="1.15"/>
<text x="292" y="90.3" font-size="6.2" font-weight="bold" text-anchor="end" fill="#000" >10</text>
<line x1="292.3" y1="65.74" x2="295.1" y2="65.74" stroke="#000" stroke-width="1.15"/>
<text x="292" y="67.97" font-size="6.2" font-weight="bold" text-anchor="end" fill="#000" >20</text>
<line x1="292.3" y1="43.41" x2="295.1" y2="43.41" stroke="#000" stroke-width="1.15"/>
<text x="292" y="45.64" font-size="6.2" font-weight="bold" text-anchor="end" fill="#000" >30</text>
<line x1="294.6" y1="110.4" x2="397" y2="110.4" stroke="#000" stroke-width="1.15"/>
<line x1="310.5" y1="110.4" x2="310.5" y2="112.4" stroke="#000" stroke-width="1"/>
<text x="310.5" y="120" font-size="6.2" font-weight="bold" text-anchor="middle" fill="#000" >2</text>
<line x1="345.4" y1="110.4" x2="345.4" y2="112.4" stroke="#000" stroke-width="1"/>
<text x="345.4" y="120" font-size="6.2" font-weight="bold" text-anchor="middle" fill="#000" >4</text>
<line x1="380.6" y1="110.4" x2="380.6" y2="112.4" stroke="#000" stroke-width="1"/>
<text x="380.6" y="120" font-size="6.2" font-weight="bold" text-anchor="middle" fill="#000" >6</text>
<line x1="301.3" y1="92.6" x2="321.6" y2="92.6" stroke="#000" stroke-width="1"/>
<text x="311.45" y="88.46" font-size="7" font-weight="normal" text-anchor="middle" fill="#000" >ns</text>
<line x1="336" y1="77.6" x2="354.8" y2="77.6" stroke="#000" stroke-width="1"/>
<text x="345.4" y="77.13" font-size="10.7" font-weight="bold" text-anchor="middle" fill="#000" >****</text>
<line x1="372" y1="46.9" x2="391.4" y2="46.9" stroke="#000" stroke-width="1"/>
<text x="381.7" y="45.83" font-size="10.7" font-weight="bold" text-anchor="middle" fill="#000" >****</text>
<text x="345" y="128" font-size="5.8" font-weight="bold" text-anchor="middle" fill="#000" >Days</text>
<rect x="297.3" y="27.3" width="8.9" height="5.3" fill="#808080" stroke="#000" stroke-width="0.9"/>
<rect x="355.4" y="27.3" width="7.7" height="5.3" fill="#e0782c" stroke="#000" stroke-width="0.9"/>
<text x="309.2" y="32.5" font-size="6.6" font-weight="normal" text-anchor="start" fill="#000" >SIB-1072</text>
<text x="365.9" y="32.5" font-size="6.6" font-weight="normal" text-anchor="start" fill="#000" >ASD-1072</text>
<text transform="translate(280.28,75.9) rotate(-90)" font-size="6.6" font-weight="bold" text-anchor="middle" >Cell Numbers (1x10<tspan font-size="4" dy="-2.2">5</tspan><tspan dy="2.2">)</tspan></text>
<rect x="295.2" y="224.54" width="8.5" height="14.66" fill="#808080" stroke="#000" stroke-width="1.15"/>
<rect x="309.8" y="230.69" width="8.1" height="8.51" fill="#3d5cf0" stroke="#000" stroke-width="1.15"/>
<rect x="332.1" y="210.82" width="8.5" height="28.38" fill="#808080" stroke="#000" stroke-width="1.15"/>
<rect x="346" y="218.39" width="8.8" height="20.81" fill="#3d5cf0" stroke="#000" stroke-width="1.15"/>
<rect x="368.7" y="195.21" width="8.8" height="43.99" fill="#808080" stroke="#000" stroke-width="1.15"/>
<rect x="382.3" y="212.24" width="8.8" height="26.96" fill="#3d5cf0" stroke="#000" stroke-width="1.15"/>
<line x1="299.45" y1="223.35" x2="299.45" y2="225.72" stroke="#000" stroke-width="1"/>
<line x1="296.85" y1="223.35" x2="302.05" y2="223.35" stroke="#000" stroke-width="1"/>
<line x1="296.85" y1="225.72" x2="302.05" y2="225.72" stroke="#000" stroke-width="1"/>
<line x1="313.85" y1="228.56" x2="313.85" y2="232.81" stroke="#000" stroke-width="1"/>
<line x1="311.25" y1="228.56" x2="316.45" y2="228.56" stroke="#000" stroke-width="1"/>
<line x1="311.25" y1="232.81" x2="316.45" y2="232.81" stroke="#000" stroke-width="1"/>
<line x1="336.35" y1="208.45" x2="336.35" y2="213.19" stroke="#000" stroke-width="1"/>
<line x1="333.75" y1="208.45" x2="338.95" y2="208.45" stroke="#000" stroke-width="1"/>
<line x1="333.75" y1="213.19" x2="338.95" y2="213.19" stroke="#000" stroke-width="1"/>
<line x1="350.4" y1="216.73" x2="350.4" y2="220.04" stroke="#000" stroke-width="1"/>
<line x1="347.8" y1="216.73" x2="353" y2="216.73" stroke="#000" stroke-width="1"/>
<line x1="347.8" y1="220.04" x2="353" y2="220.04" stroke="#000" stroke-width="1"/>
<line x1="373.1" y1="188.59" x2="373.1" y2="201.83" stroke="#000" stroke-width="1"/>
<line x1="370.5" y1="188.59" x2="375.7" y2="188.59" stroke="#000" stroke-width="1"/>
<line x1="370.5" y1="201.83" x2="375.7" y2="201.83" stroke="#000" stroke-width="1"/>
<line x1="386.7" y1="210.11" x2="386.7" y2="214.37" stroke="#000" stroke-width="1"/>
<line x1="384.1" y1="210.11" x2="389.3" y2="210.11" stroke="#000" stroke-width="1"/>
<line x1="384.1" y1="214.37" x2="389.3" y2="214.37" stroke="#000" stroke-width="1"/>
<line x1="290.5" y1="239.7" x2="290.5" y2="168.25" stroke="#000" stroke-width="1.15"/>
<line x1="287.7" y1="239.2" x2="290.5" y2="239.2" stroke="#000" stroke-width="1.15"/>
<text x="287.4" y="241.22" font-size="5.6" font-weight="bold" text-anchor="end" fill="#000" >0</text>
<line x1="287.7" y1="215.55" x2="290.5" y2="215.55" stroke="#000" stroke-width="1.15"/>
<text x="287.4" y="217.57" font-size="5.6" font-weight="bold" text-anchor="end" fill="#000" >5</text>
<line x1="287.7" y1="191.9" x2="290.5" y2="191.9" stroke="#000" stroke-width="1.15"/>
<text x="287.4" y="193.92" font-size="5.6" font-weight="bold" text-anchor="end" fill="#000" >10</text>
<line x1="287.7" y1="168.25" x2="290.5" y2="168.25" stroke="#000" stroke-width="1.15"/>
<text x="287.4" y="170.27" font-size="5.6" font-weight="bold" text-anchor="end" fill="#000" >15</text>
<line x1="290" y1="239.2" x2="396.5" y2="239.2" stroke="#000" stroke-width="1.15"/>
<line x1="306.55" y1="239.2" x2="306.55" y2="241.2" stroke="#000" stroke-width="1"/>
<text x="306.55" y="248.5" font-size="5.6" font-weight="bold" text-anchor="middle" fill="#000" letter-spacing="0.55">2</text>
<line x1="343.45" y1="239.2" x2="343.45" y2="241.2" stroke="#000" stroke-width="1"/>
<text x="343.45" y="248.5" font-size="5.6" font-weight="bold" text-anchor="middle" fill="#000" letter-spacing="0.55">4</text>
<line x1="379.9" y1="239.2" x2="379.9" y2="241.2" stroke="#000" stroke-width="1"/>
<text x="379.9" y="248.5" font-size="5.6" font-weight="bold" text-anchor="middle" fill="#000" letter-spacing="0.55">6</text>
<line x1="298.3" y1="218" x2="317.9" y2="218" stroke="#000" stroke-width="1"/>
<text x="308.5" y="214.28" font-size="6" font-weight="normal" text-anchor="middle" fill="#000" letter-spacing="0.8">ns</text>
<line x1="335.2" y1="202" x2="354.8" y2="202" stroke="#000" stroke-width="1"/>
<text x="345.4" y="197.68" font-size="6" font-weight="normal" text-anchor="middle" fill="#000" letter-spacing="0.8">ns</text>
<line x1="371.4" y1="182.3" x2="390.5" y2="182.3" stroke="#000" stroke-width="1"/>
<text x="381.35" y="182.98" font-size="9.5" font-weight="bold" text-anchor="middle" fill="#000" letter-spacing="0.8">**</text>
<text x="342" y="260.8" font-size="5.6" font-weight="bold" text-anchor="middle" fill="#000" letter-spacing="0.55">Days</text>
<rect x="301.3" y="156.6" width="7.5" height="4.6" fill="#808080" stroke="#000" stroke-width="0.9"/>
<rect x="357.2" y="156.6" width="8.2" height="4.6" fill="#3d5cf0" stroke="#000" stroke-width="0.9"/>
<text x="312.8" y="161" font-size="5.2" font-weight="normal" text-anchor="start" fill="#000" letter-spacing="1.1">SIB-1012</text>
<text x="368.4" y="161" font-size="5.2" font-weight="normal" text-anchor="start" fill="#000" letter-spacing="1.1">ASD-1012</text>
<text transform="translate(279.99,202) rotate(-90)" font-size="5.8" font-weight="bold" text-anchor="middle" letter-spacing="0.55">Cell Numbers (1x10<tspan font-size="4" dy="-2.2">4</tspan><tspan dy="2.2">)</tspan></text>
<rect x="297.6" y="364.2" width="8.9" height="11.3" fill="#808080" stroke="#000" stroke-width="1.15"/>
<rect x="311.3" y="364.2" width="9" height="11.3" fill="#5aa52a" stroke="#000" stroke-width="1.15"/>
<rect x="334.4" y="356.4" width="8.3" height="19.1" fill="#808080" stroke="#000" stroke-width="1.15"/>
<rect x="346.8" y="353.17" width="8.6" height="22.33" fill="#5aa52a" stroke="#000" stroke-width="1.15"/>
<rect x="368.9" y="343.76" width="8.6" height="31.74" fill="#808080" stroke="#000" stroke-width="1.15"/>
<rect x="381" y="320.62" width="8.6" height="54.88" fill="#5aa52a" stroke="#000" stroke-width="1.15"/>
<line x1="302.05" y1="363.39" x2="302.05" y2="365.01" stroke="#000" stroke-width="1"/>
<line x1="299.45" y1="363.39" x2="304.65" y2="363.39" stroke="#000" stroke-width="1"/>
<line x1="299.45" y1="365.01" x2="304.65" y2="365.01" stroke="#000" stroke-width="1"/>
<line x1="315.8" y1="362.59" x2="315.8" y2="365.82" stroke="#000" stroke-width="1"/>
<line x1="313.2" y1="362.59" x2="318.4" y2="362.59" stroke="#000" stroke-width="1"/>
<line x1="313.2" y1="365.82" x2="318.4" y2="365.82" stroke="#000" stroke-width="1"/>
<line x1="338.55" y1="354.79" x2="338.55" y2="358.01" stroke="#000" stroke-width="1"/>
<line x1="335.95" y1="354.79" x2="341.15" y2="354.79" stroke="#000" stroke-width="1"/>
<line x1="335.95" y1="358.01" x2="341.15" y2="358.01" stroke="#000" stroke-width="1"/>
<line x1="351.1" y1="350.48" x2="351.1" y2="355.86" stroke="#000" stroke-width="1"/>
<line x1="348.5" y1="350.48" x2="353.7" y2="350.48" stroke="#000" stroke-width="1"/>
<line x1="348.5" y1="355.86" x2="353.7" y2="355.86" stroke="#000" stroke-width="1"/>
<line x1="373.2" y1="340.53" x2="373.2" y2="346.99" stroke="#000" stroke-width="1"/>
<line x1="370.6" y1="340.53" x2="375.8" y2="340.53" stroke="#000" stroke-width="1"/>
<line x1="370.6" y1="346.99" x2="375.8" y2="346.99" stroke="#000" stroke-width="1"/>
<line x1="385.3" y1="311.48" x2="385.3" y2="329.77" stroke="#000" stroke-width="1"/>
<line x1="382.7" y1="311.48" x2="387.9" y2="311.48" stroke="#000" stroke-width="1"/>
<line x1="382.7" y1="329.77" x2="387.9" y2="329.77" stroke="#000" stroke-width="1"/>
<line x1="293.5" y1="376" x2="293.5" y2="308.25" stroke="#000" stroke-width="1.15"/>
<line x1="290.7" y1="375.5" x2="293.5" y2="375.5" stroke="#000" stroke-width="1.15"/>
<text x="290.4" y="377.73" font-size="6.2" font-weight="bold" text-anchor="end" fill="#000" >0</text>
<line x1="290.7" y1="362.05" x2="293.5" y2="362.05" stroke="#000" stroke-width="1.15"/>
<text x="290.4" y="364.28" font-size="6.2" font-weight="bold" text-anchor="end" fill="#000" >5</text>
<line x1="290.7" y1="348.6" x2="293.5" y2="348.6" stroke="#000" stroke-width="1.15"/>
<text x="290.4" y="350.83" font-size="6.2" font-weight="bold" text-anchor="end" fill="#000" >10</text>
<line x1="290.7" y1="335.15" x2="293.5" y2="335.15" stroke="#000" stroke-width="1.15"/>
<text x="290.4" y="337.38" font-size="6.2" font-weight="bold" text-anchor="end" fill="#000" >15</text>
<line x1="290.7" y1="321.7" x2="293.5" y2="321.7" stroke="#000" stroke-width="1.15"/>
<text x="290.4" y="323.93" font-size="6.2" font-weight="bold" text-anchor="end" fill="#000" >20</text>
<line x1="290.7" y1="308.25" x2="293.5" y2="308.25" stroke="#000" stroke-width="1.15"/>
<text x="290.4" y="310.48" font-size="6.2" font-weight="bold" text-anchor="end" fill="#000" >25</text>
<line x1="293" y1="375.5" x2="391.2" y2="375.5" stroke="#000" stroke-width="1.15"/>
<line x1="308.95" y1="375.5" x2="308.95" y2="377.5" stroke="#000" stroke-width="1"/>
<text x="308.95" y="384.8" font-size="6.2" font-weight="bold" text-anchor="middle" fill="#000" >2</text>
<line x1="344.9" y1="375.5" x2="344.9" y2="377.5" stroke="#000" stroke-width="1"/>
<text x="344.9" y="384.8" font-size="6.2" font-weight="bold" text-anchor="middle" fill="#000" >4</text>
<line x1="379.25" y1="375.5" x2="379.25" y2="377.5" stroke="#000" stroke-width="1"/>
<text x="379.25" y="384.8" font-size="6.2" font-weight="bold" text-anchor="middle" fill="#000" >6</text>
<line x1="300.2" y1="355.6" x2="319.3" y2="355.6" stroke="#000" stroke-width="1"/>
<text x="309.75" y="353.46" font-size="7" font-weight="normal" text-anchor="middle" fill="#000" >ns</text>
<line x1="333.7" y1="345.1" x2="356.1" y2="345.1" stroke="#000" stroke-width="1"/>
<text x="344.9" y="341.66" font-size="7" font-weight="normal" text-anchor="middle" fill="#000" >ns</text>
<line x1="369.8" y1="304.5" x2="390.3" y2="304.5" stroke="#000" stroke-width="1"/>
<text x="380.05" y="306.39" font-size="11" font-weight="bold" text-anchor="middle" fill="#000" >****</text>
<text x="344.9" y="393.7" font-size="6.5" font-weight="bold" text-anchor="middle" fill="#000" >Days</text>
<rect x="296" y="286.6" width="8" height="4.8" fill="#808080" stroke="#000" stroke-width="0.9"/>
<rect x="352.9" y="286.6" width="8" height="4.8" fill="#5aa52a" stroke="#000" stroke-width="0.9"/>
<text x="307.5" y="291.4" font-size="6.6" font-weight="normal" text-anchor="start" fill="#000" >SIB-1077</text>
<text x="364.1" y="291.4" font-size="6.6" font-weight="normal" text-anchor="start" fill="#000" >ASD-1077</text>
<text transform="translate(279.68,340.4) rotate(-90)" font-size="6.6" font-weight="bold" text-anchor="middle" >Cell Numbers (1x10<tspan font-size="4" dy="-2.2">4</tspan><tspan dy="2.2">)</tspan></text>
</svg>
</body></html>
